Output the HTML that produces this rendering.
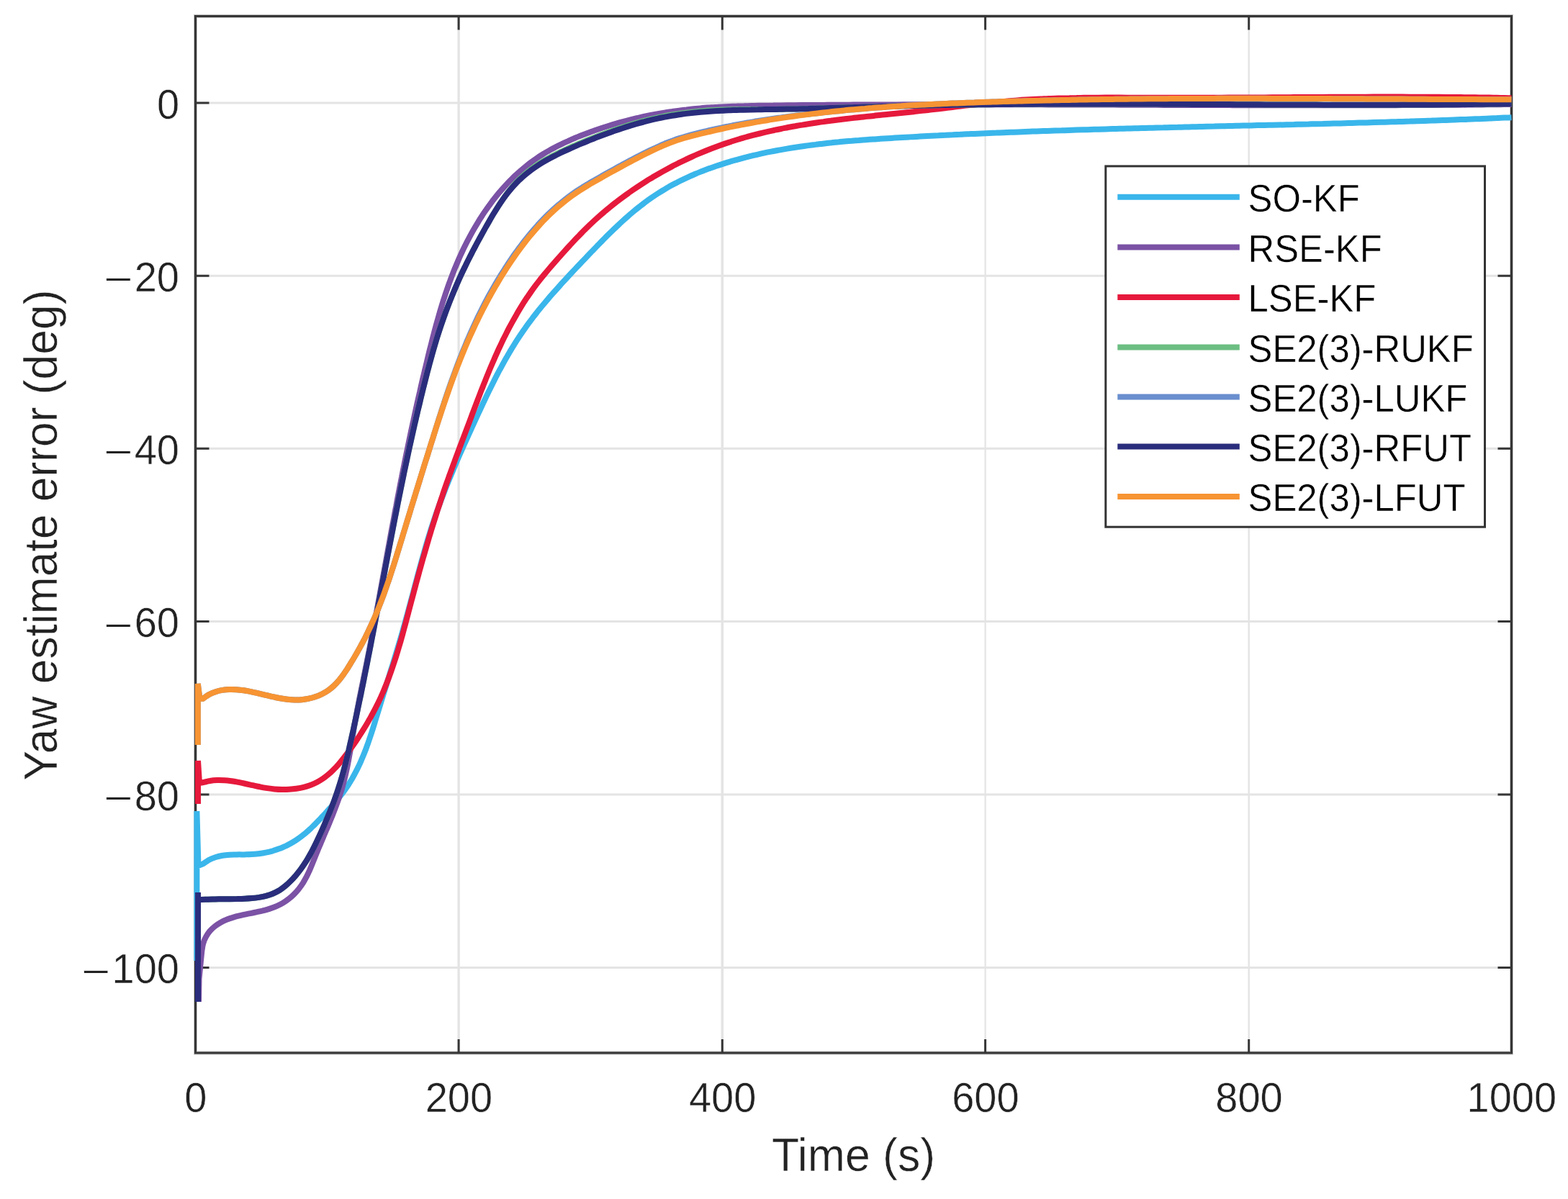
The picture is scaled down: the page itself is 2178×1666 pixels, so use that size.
<!DOCTYPE html>
<html lang="en"><head><meta charset="utf-8"><title>Yaw estimate error</title>
<style>html,body{margin:0;padding:0;background:#fff;}body{width:2178px;height:1666px;overflow:hidden;}svg{display:block;}text{font-family:"Liberation Sans", Arial, Helvetica, sans-serif;stroke:#ffffff;stroke-width:0.45px;}</style>
</head><body>
<svg width="2178" height="1666" viewBox="0 0 2178 1666">
<rect x="0" y="0" width="2178" height="1666" fill="#ffffff"/>
<path d="M637.1,22.5 V1463.0" stroke="#e4e4e4" stroke-width="3.3" fill="none"/>
<path d="M1003.3,22.5 V1463.0" stroke="#e4e4e4" stroke-width="3.6" fill="none"/>
<path d="M1368.6,22.5 V1463.0" stroke="#e4e4e4" stroke-width="2.2" fill="none"/>
<path d="M1734.7,22.5 V1463.0" stroke="#e4e4e4" stroke-width="2.4" fill="none"/>
<path d="M271.5,143.0 H2099.5 M271.5,383.2 H2099.5 M271.5,623.3 H2099.5 M271.5,863.4 H2099.5 M271.5,1103.9 H2099.5 M271.5,1344.6 H2099.5" stroke="#e4e4e4" stroke-width="3" fill="none"/>
<rect x="271.5" y="22.5" width="1828.0" height="1440.5" fill="none" stroke="#363636" stroke-opacity="0.3" stroke-width="5"/>
<rect x="271.5" y="22.5" width="1828.0" height="1440.5" fill="none" stroke="#363636" stroke-width="3"/>
<path d="M637.1,1463.0 v-19 M637.1,22.5 v19 M1003.3,1463.0 v-19 M1003.3,22.5 v19 M1368.6,1463.0 v-19 M1368.6,22.5 v19 M1734.7,1463.0 v-19 M1734.7,22.5 v19 M271.5,143.0 h19 M2099.5,143.0 h-19 M271.5,383.2 h19 M2099.5,383.2 h-19 M271.5,623.3 h19 M2099.5,623.3 h-19 M271.5,863.4 h19 M2099.5,863.4 h-19 M271.5,1103.9 h19 M2099.5,1103.9 h-19 M271.5,1344.6 h19 M2099.5,1344.6 h-19" stroke="#363636" stroke-width="3" fill="none"/>
<g fill="none" stroke-width="8" stroke-linejoin="miter" stroke-linecap="butt">
<path d="M273.4,1335.0 L273.4,1127.0 L275.5,1203.0 L281.7,1200.5 C283.2,1199.5 287.5,1196.3 290.5,1194.7 C293.5,1193.1 296.6,1192.0 299.7,1191.0 C302.8,1190.0 306.0,1189.3 309.2,1188.8 C312.4,1188.3 315.6,1188.0 318.9,1187.7 C322.2,1187.5 325.5,1187.5 328.9,1187.4 C332.2,1187.3 335.6,1187.4 338.9,1187.4 C342.3,1187.3 345.7,1187.3 349.0,1187.1 C352.4,1187.0 355.8,1186.7 359.1,1186.3 C362.4,1185.9 365.8,1185.4 369.1,1184.7 C372.4,1184.0 375.7,1183.2 378.9,1182.3 C382.1,1181.3 385.3,1180.3 388.5,1179.1 C391.6,1177.9 394.7,1176.5 397.8,1175.1 C400.8,1173.6 403.8,1172.0 406.7,1170.3 C409.5,1168.6 412.4,1166.8 415.1,1164.8 C417.8,1162.9 420.5,1160.8 423.1,1158.7 C425.7,1156.5 428.2,1154.3 430.7,1152.0 C433.1,1149.7 435.5,1147.3 437.9,1145.0 C440.3,1142.6 442.6,1140.1 444.9,1137.7 C447.2,1135.3 449.4,1132.8 451.7,1130.4 C453.9,1127.9 456.1,1125.5 458.3,1123.0 C460.5,1120.5 462.8,1118.0 464.9,1115.4 C467.1,1112.9 469.3,1110.3 471.4,1107.6 C473.5,1105.0 475.6,1102.3 477.6,1099.6 C479.6,1096.8 481.5,1094.0 483.4,1091.2 C485.2,1088.3 487.0,1085.4 488.8,1082.5 C490.5,1079.6 492.1,1076.6 493.6,1073.7 C495.2,1070.7 496.7,1067.8 498.1,1064.8 C499.6,1061.8 500.9,1058.7 502.2,1055.7 C503.5,1052.7 504.8,1049.6 506.0,1046.6 C507.2,1043.5 508.4,1040.4 509.5,1037.3 C510.7,1034.2 511.8,1031.1 512.8,1027.9 C513.9,1024.8 514.9,1021.7 516.0,1018.5 C517.0,1015.3 518.0,1012.2 519.0,1009.0 C520.0,1005.8 521.0,1002.6 521.9,999.4 C522.9,996.2 523.9,992.9 524.9,989.7 C525.9,986.5 526.9,983.2 527.9,980.0 C528.9,976.7 529.9,973.5 530.9,970.2 C531.9,967.0 532.9,963.7 533.9,960.4 C535.0,957.2 536.0,953.9 537.0,950.6 C538.0,947.3 539.1,944.0 540.1,940.7 C541.1,937.4 542.1,934.1 543.1,930.8 C544.2,927.5 545.2,924.3 546.2,921.0 C547.2,917.7 548.2,914.4 549.2,911.1 C550.2,907.8 551.2,904.5 552.2,901.2 C553.2,897.9 554.2,894.6 555.1,891.3 C556.1,888.0 557.1,884.7 558.0,881.5 C558.9,878.2 559.9,874.9 560.8,871.6 C561.7,868.4 562.6,865.1 563.5,861.9 C564.4,858.6 565.3,855.3 566.2,852.1 C567.1,848.9 567.9,845.6 568.8,842.4 C569.7,839.1 570.5,835.9 571.4,832.7 C572.3,829.4 573.1,826.2 574.0,823.0 C574.8,819.8 575.7,816.6 576.5,813.4 C577.4,810.2 578.2,807.0 579.1,803.8 C579.9,800.6 580.8,797.4 581.7,794.2 C582.5,791.0 583.4,787.8 584.3,784.6 C585.1,781.4 586.0,778.2 586.9,775.1 C587.8,771.9 588.7,768.7 589.6,765.5 C590.5,762.4 591.4,759.2 592.4,756.1 C593.3,752.9 594.2,749.7 595.2,746.6 C596.2,743.4 597.1,740.3 598.1,737.1 C599.1,734.0 600.1,730.8 601.2,727.7 C602.2,724.6 603.2,721.4 604.3,718.3 C605.4,715.2 606.5,712.0 607.6,708.9 C608.7,705.8 609.8,702.6 611.0,699.5 C612.1,696.4 613.3,693.3 614.5,690.2 C615.7,687.0 616.9,683.9 618.1,680.8 C619.3,677.7 620.5,674.6 621.8,671.5 C623.0,668.4 624.3,665.3 625.6,662.2 C626.9,659.1 628.2,656.0 629.5,652.9 C630.8,649.8 632.1,646.7 633.4,643.6 C634.8,640.5 636.1,637.4 637.4,634.3 C638.8,631.2 640.1,628.1 641.5,625.1 C642.9,622.0 644.3,618.9 645.6,615.8 C647.0,612.7 648.4,609.6 649.8,606.6 C651.2,603.5 652.6,600.4 654.0,597.3 C655.4,594.2 656.8,591.2 658.2,588.1 C659.6,585.0 661.0,581.9 662.4,578.9 C663.8,575.8 665.2,572.7 666.7,569.7 C668.1,566.6 669.5,563.5 670.9,560.5 C672.4,557.4 673.8,554.4 675.3,551.3 C676.7,548.3 678.2,545.3 679.7,542.2 C681.2,539.2 682.7,536.2 684.2,533.2 C685.7,530.2 687.2,527.2 688.7,524.2 C690.3,521.2 691.8,518.2 693.4,515.2 C695.0,512.3 696.6,509.3 698.2,506.4 C699.8,503.5 701.4,500.5 703.1,497.6 C704.7,494.7 706.4,491.8 708.1,488.9 C709.8,486.1 711.5,483.2 713.3,480.4 C715.0,477.5 716.8,474.7 718.6,471.9 C720.4,469.1 722.3,466.3 724.2,463.5 C726.0,460.8 727.9,458.0 729.9,455.3 C731.8,452.6 733.8,449.9 735.8,447.2 C737.7,444.5 739.8,441.9 741.8,439.2 C743.9,436.6 745.9,433.9 748.0,431.3 C750.1,428.7 752.2,426.1 754.4,423.5 C756.5,421.0 758.7,418.4 760.9,415.8 C763.0,413.3 765.2,410.8 767.5,408.2 C769.7,405.7 771.9,403.2 774.2,400.7 C776.4,398.2 778.7,395.7 780.9,393.2 C783.2,390.7 785.5,388.2 787.8,385.7 C790.1,383.3 792.4,380.8 794.7,378.3 C797.0,375.9 799.3,373.4 801.6,370.9 C804.0,368.5 806.3,366.0 808.6,363.6 C810.9,361.1 813.3,358.7 815.6,356.3 C817.9,353.8 820.3,351.4 822.6,348.9 C824.9,346.5 827.3,344.1 829.6,341.6 C832.0,339.2 834.3,336.8 836.7,334.4 C839.1,332.0 841.4,329.6 843.8,327.2 C846.2,324.9 848.6,322.5 851.0,320.2 C853.4,317.8 855.8,315.5 858.3,313.2 C860.7,310.9 863.2,308.6 865.6,306.4 C868.1,304.2 870.6,301.9 873.1,299.7 C875.6,297.5 878.2,295.4 880.7,293.3 C883.3,291.1 885.9,289.0 888.5,287.0 C891.1,284.9 893.8,282.9 896.4,280.9 C899.1,278.9 901.8,277.0 904.5,275.1 C907.2,273.2 910.0,271.3 912.8,269.5 C915.6,267.7 918.4,265.9 921.3,264.2 C924.1,262.5 927.0,260.8 929.9,259.1 C932.8,257.5 935.8,255.9 938.8,254.4 C941.7,252.8 944.7,251.3 947.8,249.8 C950.8,248.4 953.8,247.0 956.9,245.6 C960.0,244.2 963.1,242.8 966.2,241.5 C969.3,240.2 972.4,239.0 975.6,237.7 C978.7,236.5 981.9,235.3 985.1,234.1 C988.3,233.0 991.5,231.8 994.7,230.7 C997.9,229.6 1001.1,228.6 1004.4,227.6 C1007.6,226.5 1010.9,225.5 1014.1,224.6 C1017.4,223.6 1020.7,222.7 1023.9,221.8 C1027.2,220.9 1030.5,220.0 1033.8,219.1 C1037.1,218.3 1040.3,217.5 1043.6,216.7 C1046.9,215.9 1050.2,215.1 1053.5,214.4 C1056.8,213.6 1060.1,212.9 1063.4,212.2 C1066.7,211.5 1070.0,210.9 1073.3,210.2 C1076.6,209.6 1079.9,209.0 1083.2,208.4 C1086.5,207.8 1089.8,207.2 1093.1,206.6 C1096.4,206.1 1099.8,205.5 1103.1,205.0 C1106.4,204.5 1109.7,204.0 1113.0,203.5 C1116.3,203.0 1119.6,202.6 1123.0,202.1 C1126.3,201.7 1129.6,201.3 1132.9,200.9 C1136.3,200.4 1139.6,200.1 1142.9,199.7 C1146.2,199.3 1149.6,198.9 1152.9,198.6 C1156.2,198.2 1159.5,197.9 1162.9,197.6 C1166.2,197.2 1169.5,196.9 1172.9,196.6 C1176.2,196.3 1179.5,196.0 1182.9,195.8 C1186.2,195.5 1189.5,195.2 1192.9,195.0 C1196.2,194.7 1199.6,194.4 1202.9,194.2 C1206.2,194.0 1209.6,193.7 1212.9,193.5 C1216.3,193.3 1219.6,193.0 1223.0,192.8 C1226.3,192.6 1229.6,192.4 1233.0,192.2 C1236.3,192.0 1239.7,191.8 1243.0,191.6 C1246.4,191.4 1249.7,191.2 1253.1,191.0 C1256.4,190.8 1259.8,190.6 1263.1,190.4 C1266.5,190.2 1269.8,190.0 1273.2,189.9 C1276.5,189.7 1279.9,189.5 1283.2,189.3 C1286.6,189.1 1289.9,189.0 1293.3,188.8 C1296.6,188.6 1300.0,188.4 1303.4,188.3 C1306.7,188.1 1310.1,187.9 1313.4,187.8 C1316.8,187.6 1320.1,187.4 1323.5,187.3 C1326.8,187.1 1330.2,186.9 1333.6,186.8 C1336.9,186.6 1340.3,186.5 1343.6,186.3 C1347.0,186.2 1350.4,186.0 1353.7,185.9 C1357.1,185.7 1360.4,185.6 1363.8,185.4 C1367.2,185.3 1370.5,185.1 1373.9,185.0 C1377.2,184.9 1380.6,184.7 1384.0,184.6 C1387.3,184.4 1390.7,184.3 1394.0,184.2 C1397.4,184.0 1400.8,183.9 1404.1,183.8 C1407.5,183.6 1410.9,183.5 1414.2,183.4 C1417.6,183.3 1420.9,183.1 1424.3,183.0 C1427.7,182.9 1431.0,182.8 1434.4,182.6 C1437.8,182.5 1441.1,182.4 1444.5,182.3 C1447.8,182.2 1451.2,182.0 1454.6,181.9 C1457.9,181.8 1461.3,181.7 1464.7,181.6 C1468.0,181.5 1471.4,181.4 1474.8,181.3 C1478.1,181.1 1481.5,181.0 1484.8,180.9 C1488.2,180.8 1491.6,180.7 1494.9,180.6 C1498.3,180.5 1501.7,180.4 1505.0,180.3 C1508.4,180.2 1511.7,180.1 1515.1,180.0 C1518.5,179.9 1521.8,179.8 1525.2,179.7 C1528.5,179.6 1531.9,179.5 1535.3,179.4 C1538.6,179.3 1542.0,179.2 1545.4,179.1 C1548.7,179.0 1552.1,178.9 1555.4,178.8 C1558.8,178.7 1562.2,178.7 1565.5,178.6 C1568.9,178.5 1572.2,178.4 1575.6,178.3 C1579.0,178.2 1582.3,178.1 1585.7,178.0 C1589.0,177.9 1592.4,177.9 1595.8,177.8 C1599.1,177.7 1602.5,177.6 1605.8,177.5 C1609.2,177.4 1612.6,177.3 1615.9,177.3 C1619.3,177.2 1622.6,177.1 1626.0,177.0 C1629.4,176.9 1632.7,176.8 1636.1,176.8 C1639.4,176.7 1642.8,176.6 1646.1,176.5 C1649.5,176.4 1652.9,176.4 1656.2,176.3 C1659.6,176.2 1662.9,176.1 1666.3,176.0 C1669.7,176.0 1673.0,175.9 1676.4,175.8 C1679.7,175.7 1683.1,175.6 1686.4,175.6 C1689.8,175.5 1693.2,175.4 1696.5,175.3 C1699.9,175.2 1703.2,175.2 1706.6,175.1 C1710.0,175.0 1713.3,174.9 1716.7,174.8 C1720.0,174.8 1723.4,174.7 1726.7,174.6 C1730.1,174.5 1733.5,174.5 1736.8,174.4 C1740.2,174.3 1743.5,174.2 1746.9,174.1 C1750.2,174.1 1753.6,174.0 1757.0,173.9 C1760.3,173.8 1763.7,173.8 1767.0,173.7 C1770.4,173.6 1773.8,173.5 1777.1,173.4 C1780.5,173.4 1783.8,173.3 1787.2,173.2 C1790.5,173.1 1793.9,173.0 1797.3,173.0 C1800.6,172.9 1804.0,172.8 1807.3,172.7 C1810.7,172.6 1814.0,172.5 1817.4,172.5 C1820.8,172.4 1824.1,172.3 1827.5,172.2 C1830.8,172.1 1834.2,172.0 1837.5,172.0 C1840.9,171.9 1844.3,171.8 1847.6,171.7 C1851.0,171.6 1854.3,171.5 1857.7,171.4 C1861.0,171.4 1864.4,171.3 1867.8,171.2 C1871.1,171.1 1874.5,171.0 1877.8,170.9 C1881.2,170.8 1884.5,170.7 1887.9,170.6 C1891.3,170.5 1894.6,170.4 1898.0,170.4 C1901.3,170.3 1904.7,170.2 1908.0,170.1 C1911.4,170.0 1914.8,169.9 1918.1,169.8 C1921.5,169.7 1924.8,169.6 1928.2,169.5 C1931.6,169.4 1934.9,169.3 1938.3,169.2 C1941.6,169.1 1945.0,169.0 1948.3,168.9 C1951.7,168.8 1955.1,168.7 1958.4,168.6 C1961.8,168.4 1965.1,168.3 1968.5,168.2 C1971.8,168.1 1975.2,168.0 1978.6,167.9 C1981.9,167.8 1985.3,167.7 1988.6,167.6 C1992.0,167.4 1995.4,167.3 1998.7,167.2 C2002.1,167.1 2005.4,167.0 2008.8,166.9 C2012.1,166.7 2015.5,166.6 2018.9,166.5 C2022.2,166.4 2025.6,166.2 2028.9,166.1 C2032.3,166.0 2035.7,165.9 2039.0,165.7 C2042.4,165.6 2045.7,165.5 2049.1,165.3 C2052.5,165.2 2055.8,165.1 2059.2,164.9 C2062.5,164.8 2065.9,164.7 2069.3,164.5 C2072.6,164.4 2076.0,164.2 2079.3,164.1 C2082.7,163.9 2086.1,163.8 2089.4,163.6 C2092.8,163.5 2097.8,163.3 2099.5,163.2" stroke="#3AB6EB"/>
<path d="M276.0,1392.0 L276.5,1360.0 L280.3,1321.8 C280.6,1320.0 281.3,1314.4 282.2,1311.0 C283.2,1307.7 284.5,1304.5 286.1,1301.6 C287.7,1298.7 289.6,1296.1 291.6,1293.6 C293.7,1291.2 296.1,1289.0 298.6,1287.0 C301.1,1285.0 303.8,1283.3 306.6,1281.7 C309.4,1280.1 312.4,1278.8 315.5,1277.6 C318.5,1276.4 321.7,1275.4 324.9,1274.4 C328.1,1273.4 331.4,1272.7 334.7,1271.9 C338.0,1271.1 341.4,1270.4 344.8,1269.7 C348.2,1269.0 351.6,1268.4 354.9,1267.6 C358.3,1266.9 361.7,1266.2 365.0,1265.4 C368.3,1264.5 371.6,1263.7 374.8,1262.6 C378.0,1261.6 381.2,1260.5 384.2,1259.1 C387.2,1257.8 390.2,1256.3 393.0,1254.6 C395.9,1252.9 398.6,1251.0 401.2,1248.9 C403.8,1246.9 406.2,1244.7 408.6,1242.3 C410.9,1240.0 413.1,1237.5 415.2,1234.9 C417.2,1232.3 419.1,1229.6 420.9,1226.8 C422.6,1224.0 424.2,1221.1 425.8,1218.1 C427.3,1215.2 428.7,1212.1 430.1,1209.1 C431.4,1206.0 432.7,1202.9 434.0,1199.8 C435.3,1196.6 436.5,1193.5 437.8,1190.3 C439.0,1187.2 440.3,1184.0 441.6,1180.9 C442.9,1177.8 444.2,1174.6 445.6,1171.5 C446.9,1168.4 448.2,1165.3 449.5,1162.1 C450.9,1159.0 452.2,1155.9 453.5,1152.8 C454.9,1149.7 456.2,1146.6 457.5,1143.4 C458.8,1140.3 460.1,1137.2 461.3,1134.1 C462.6,1131.0 463.8,1127.9 465.0,1124.7 C466.2,1121.6 467.4,1118.5 468.5,1115.3 C469.7,1112.2 470.8,1109.1 471.8,1105.9 C472.8,1102.7 473.8,1099.6 474.8,1096.4 C475.7,1093.2 476.6,1090.0 477.4,1086.8 C478.2,1083.7 479.0,1080.4 479.8,1077.2 C480.5,1074.0 481.2,1070.8 481.9,1067.6 C482.6,1064.3 483.2,1061.1 483.8,1057.9 C484.4,1054.6 485.0,1051.4 485.6,1048.1 C486.2,1044.8 486.8,1041.6 487.3,1038.3 C487.9,1035.0 488.4,1031.8 488.9,1028.5 C489.5,1025.2 490.0,1021.9 490.6,1018.6 C491.1,1015.3 491.7,1012.0 492.2,1008.7 C492.8,1005.4 493.4,1002.1 494.0,998.8 C494.5,995.5 495.2,992.2 495.8,988.9 C496.4,985.6 497.0,982.3 497.7,979.0 C498.3,975.6 499.0,972.3 499.6,969.0 C500.3,965.7 501.0,962.4 501.6,959.1 C502.3,955.7 503.0,952.4 503.7,949.1 C504.3,945.8 505.0,942.5 505.7,939.2 C506.4,935.9 507.1,932.6 507.7,929.2 C508.4,925.9 509.1,922.6 509.7,919.3 C510.4,916.0 511.0,912.7 511.7,909.4 C512.3,906.1 513.0,902.8 513.6,899.5 C514.3,896.3 514.9,893.0 515.5,889.7 C516.2,886.4 516.8,883.1 517.4,879.8 C518.1,876.5 518.7,873.2 519.3,870.0 C520.0,866.7 520.6,863.4 521.2,860.1 C521.8,856.8 522.4,853.6 523.0,850.3 C523.7,847.0 524.3,843.7 524.9,840.4 C525.5,837.2 526.1,833.9 526.7,830.6 C527.3,827.3 527.9,824.1 528.5,820.8 C529.1,817.5 529.7,814.3 530.3,811.0 C530.9,807.7 531.5,804.4 532.1,801.2 C532.7,797.9 533.3,794.6 533.9,791.4 C534.5,788.1 535.1,784.8 535.7,781.6 C536.3,778.3 536.9,775.0 537.5,771.7 C538.1,768.5 538.7,765.2 539.3,761.9 C539.9,758.7 540.5,755.4 541.1,752.1 C541.7,748.8 542.3,745.6 542.9,742.3 C543.5,739.0 544.1,735.7 544.7,732.5 C545.3,729.2 546.0,725.9 546.6,722.6 C547.2,719.4 547.8,716.1 548.4,712.8 C549.0,709.5 549.6,706.3 550.3,703.0 C550.9,699.7 551.5,696.4 552.1,693.1 C552.8,689.8 553.4,686.5 554.0,683.3 C554.7,680.0 555.3,676.7 555.9,673.4 C556.6,670.1 557.2,666.8 557.9,663.5 C558.5,660.2 559.2,656.9 559.8,653.6 C560.5,650.3 561.2,647.0 561.8,643.7 C562.5,640.4 563.2,637.1 563.8,633.8 C564.5,630.5 565.2,627.2 565.9,623.9 C566.5,620.6 567.2,617.3 567.9,614.0 C568.6,610.6 569.3,607.3 570.0,604.0 C570.7,600.7 571.4,597.4 572.1,594.1 C572.8,590.8 573.5,587.5 574.3,584.2 C575.0,580.9 575.7,577.6 576.4,574.3 C577.1,571.0 577.9,567.7 578.6,564.4 C579.3,561.1 580.1,557.8 580.8,554.5 C581.6,551.2 582.3,547.9 583.1,544.6 C583.8,541.3 584.6,538.0 585.3,534.7 C586.1,531.4 586.8,528.1 587.6,524.8 C588.4,521.6 589.2,518.3 589.9,515.0 C590.7,511.7 591.5,508.5 592.3,505.2 C593.1,501.9 593.9,498.7 594.6,495.4 C595.4,492.1 596.2,488.9 597.0,485.6 C597.9,482.4 598.7,479.1 599.5,475.9 C600.3,472.7 601.1,469.4 602.0,466.2 C602.8,463.0 603.7,459.7 604.5,456.5 C605.4,453.3 606.3,450.1 607.2,446.9 C608.1,443.7 609.0,440.5 609.9,437.3 C610.8,434.1 611.7,430.9 612.7,427.7 C613.7,424.5 614.6,421.4 615.6,418.2 C616.6,415.0 617.7,411.9 618.7,408.7 C619.8,405.6 620.8,402.4 621.9,399.3 C623.0,396.1 624.1,393.0 625.3,389.9 C626.4,386.8 627.6,383.7 628.8,380.6 C630.0,377.5 631.2,374.4 632.5,371.3 C633.8,368.2 635.1,365.1 636.4,362.1 C637.7,359.0 639.1,355.9 640.5,352.9 C641.9,349.9 643.3,346.8 644.8,343.8 C646.3,340.8 647.8,337.8 649.3,334.8 C650.9,331.8 652.5,328.8 654.1,325.8 C655.7,322.9 657.4,319.9 659.1,317.0 C660.8,314.1 662.5,311.2 664.3,308.3 C666.0,305.4 667.8,302.5 669.7,299.7 C671.5,296.9 673.4,294.1 675.4,291.3 C677.3,288.5 679.3,285.8 681.3,283.1 C683.3,280.4 685.3,277.7 687.4,275.1 C689.5,272.4 691.6,269.8 693.8,267.2 C696.0,264.7 698.2,262.1 700.4,259.7 C702.7,257.2 705.0,254.7 707.3,252.3 C709.6,249.9 712.0,247.6 714.4,245.2 C716.8,242.9 719.3,240.7 721.8,238.5 C724.3,236.2 726.8,234.1 729.4,232.0 C732.0,229.9 734.6,227.8 737.3,225.8 C739.9,223.8 742.6,221.9 745.4,220.0 C748.1,218.1 750.9,216.3 753.8,214.5 C756.6,212.7 759.5,211.0 762.4,209.4 C765.3,207.7 768.3,206.1 771.3,204.6 C774.2,203.0 777.3,201.5 780.3,200.1 C783.3,198.6 786.4,197.2 789.5,195.9 C792.5,194.5 795.6,193.1 798.7,191.8 C801.8,190.5 804.9,189.3 808.0,188.0 C811.2,186.8 814.3,185.6 817.4,184.4 C820.5,183.2 823.7,182.1 826.8,181.0 C830.0,179.9 833.2,178.8 836.3,177.7 C839.5,176.7 842.7,175.7 845.9,174.7 C849.0,173.7 852.2,172.7 855.4,171.8 C858.6,170.9 861.9,170.0 865.1,169.1 C868.3,168.2 871.5,167.4 874.7,166.6 C878.0,165.8 881.2,165.0 884.4,164.2 C887.7,163.5 890.9,162.7 894.2,162.0 C897.5,161.3 900.7,160.7 904.0,160.0 C907.2,159.4 910.5,158.8 913.8,158.2 C917.1,157.6 920.4,157.0 923.7,156.5 C926.9,155.9 930.2,155.4 933.5,155.0 C936.8,154.5 940.1,154.0 943.5,153.6 C946.8,153.2 950.1,152.7 953.4,152.4 C956.7,152.0 960.0,151.6 963.4,151.3 C966.7,151.0 970.0,150.7 973.3,150.4 C976.7,150.1 980.0,149.8 983.4,149.6 C986.7,149.4 990.0,149.1 993.4,148.9 C996.7,148.7 1000.1,148.6 1003.4,148.4 C1006.8,148.2 1010.1,148.1 1013.5,147.9 C1016.8,147.8 1020.2,147.7 1023.5,147.6 C1026.9,147.4 1030.3,147.3 1033.6,147.3 C1037.0,147.2 1040.3,147.1 1043.7,147.0 C1047.1,147.0 1050.4,146.9 1053.8,146.8 C1057.1,146.8 1060.5,146.7 1063.9,146.7 C1067.2,146.6 1070.6,146.6 1074.0,146.6 C1077.3,146.5 1080.7,146.5 1084.1,146.4 C1087.4,146.4 1090.8,146.4 1094.2,146.3 C1097.5,146.3 1100.9,146.3 1104.2,146.2 C1107.6,146.2 1111.0,146.2 1114.3,146.1 C1117.7,146.1 1121.1,146.1 1124.4,146.1 C1127.8,146.0 1131.1,146.0 1134.5,146.0 C1137.9,145.9 1141.2,145.9 1144.6,145.9 C1147.9,145.9 1151.3,145.8 1154.7,145.8 C1158.0,145.8 1161.4,145.8 1164.7,145.7 C1168.1,145.7 1171.5,145.7 1174.8,145.7 C1178.2,145.7 1181.5,145.6 1184.9,145.6 C1188.2,145.6 1191.6,145.6 1195.0,145.6 C1198.3,145.5 1201.7,145.5 1205.0,145.5 C1208.4,145.5 1211.7,145.5 1215.1,145.5 C1218.5,145.5 1221.8,145.4 1225.2,145.4 C1228.5,145.4 1231.9,145.4 1235.2,145.4 C1238.6,145.4 1241.9,145.4 1245.3,145.4 C1248.7,145.3 1252.0,145.3 1255.4,145.3 C1258.7,145.3 1262.1,145.3 1265.4,145.3 C1268.8,145.3 1272.1,145.3 1275.5,145.3 C1278.8,145.3 1282.2,145.3 1285.5,145.3 C1288.9,145.2 1292.3,145.2 1295.6,145.2 C1299.0,145.2 1302.3,145.2 1305.7,145.2 C1309.0,145.2 1312.4,145.2 1315.7,145.2 C1319.1,145.2 1322.4,145.2 1325.8,145.2 C1329.1,145.2 1332.5,145.2 1335.8,145.2 C1339.2,145.2 1342.5,145.2 1345.9,145.2 C1349.2,145.2 1352.6,145.2 1355.9,145.2 C1359.3,145.2 1362.6,145.2 1366.0,145.2 C1369.3,145.2 1372.7,145.2 1376.0,145.2 C1379.4,145.2 1382.7,145.2 1386.1,145.2 C1389.4,145.2 1392.8,145.2 1396.1,145.2 C1399.5,145.2 1402.8,145.2 1406.2,145.3 C1409.5,145.3 1412.9,145.3 1416.2,145.3 C1419.6,145.3 1422.9,145.3 1426.3,145.3 C1429.6,145.3 1433.0,145.3 1436.3,145.3 C1439.7,145.3 1443.0,145.3 1446.4,145.3 C1449.7,145.3 1453.0,145.3 1456.4,145.4 C1459.7,145.4 1463.1,145.4 1466.4,145.4 C1469.8,145.4 1473.1,145.4 1476.5,145.4 C1479.8,145.4 1483.2,145.4 1486.5,145.4 C1489.9,145.4 1493.2,145.5 1496.6,145.5 C1499.9,145.5 1503.3,145.5 1506.6,145.5 C1510.0,145.5 1513.3,145.5 1516.6,145.5 C1520.0,145.5 1523.3,145.5 1526.7,145.6 C1530.0,145.6 1533.4,145.6 1536.7,145.6 C1540.1,145.6 1543.4,145.6 1546.8,145.6 C1550.1,145.6 1553.5,145.6 1556.8,145.7 C1560.1,145.7 1563.5,145.7 1566.8,145.7 C1570.2,145.7 1573.5,145.7 1576.9,145.7 C1580.2,145.7 1583.6,145.7 1586.9,145.8 C1590.3,145.8 1593.6,145.8 1597.0,145.8 C1600.3,145.8 1603.6,145.8 1607.0,145.8 C1610.3,145.8 1613.7,145.8 1617.0,145.9 C1620.4,145.9 1623.7,145.9 1627.1,145.9 C1630.4,145.9 1633.8,145.9 1637.1,145.9 C1640.5,145.9 1643.8,145.9 1647.1,146.0 C1650.5,146.0 1653.8,146.0 1657.2,146.0 C1660.5,146.0 1663.9,146.0 1667.2,146.0 C1670.6,146.0 1673.9,146.0 1677.3,146.1 C1680.6,146.1 1683.9,146.1 1687.3,146.1 C1690.6,146.1 1694.0,146.1 1697.3,146.1 C1700.7,146.1 1704.0,146.1 1707.4,146.1 C1710.7,146.1 1714.1,146.2 1717.4,146.2 C1720.8,146.2 1724.1,146.2 1727.5,146.2 C1730.8,146.2 1734.1,146.2 1737.5,146.2 C1740.8,146.2 1744.2,146.2 1747.5,146.2 C1750.9,146.2 1754.2,146.2 1757.6,146.2 C1760.9,146.3 1764.3,146.3 1767.6,146.3 C1771.0,146.3 1774.3,146.3 1777.7,146.3 C1781.0,146.3 1784.4,146.3 1787.7,146.3 C1791.0,146.3 1794.4,146.3 1797.7,146.3 C1801.1,146.3 1804.4,146.3 1807.8,146.3 C1811.1,146.3 1814.5,146.3 1817.8,146.3 C1821.2,146.3 1824.5,146.3 1827.9,146.3 C1831.2,146.3 1834.6,146.3 1837.9,146.3 C1841.3,146.3 1844.6,146.3 1848.0,146.3 C1851.3,146.3 1854.7,146.3 1858.0,146.3 C1861.4,146.3 1864.7,146.3 1868.1,146.3 C1871.4,146.3 1874.8,146.3 1878.1,146.3 C1881.5,146.3 1884.8,146.3 1888.2,146.3 C1891.5,146.3 1894.9,146.3 1898.2,146.3 C1901.6,146.3 1904.9,146.2 1908.3,146.2 C1911.6,146.2 1915.0,146.2 1918.3,146.2 C1921.7,146.2 1925.0,146.2 1928.4,146.2 C1931.7,146.2 1935.1,146.2 1938.4,146.2 C1941.8,146.1 1945.1,146.1 1948.5,146.1 C1951.8,146.1 1955.2,146.1 1958.5,146.1 C1961.9,146.1 1965.2,146.0 1968.6,146.0 C1972.0,146.0 1975.3,146.0 1978.7,146.0 C1982.0,146.0 1985.4,145.9 1988.7,145.9 C1992.1,145.9 1995.4,145.9 1998.8,145.9 C2002.1,145.8 2005.5,145.8 2008.9,145.8 C2012.2,145.8 2015.6,145.8 2018.9,145.7 C2022.3,145.7 2025.6,145.7 2029.0,145.7 C2032.3,145.6 2035.7,145.6 2039.1,145.6 C2042.4,145.6 2045.8,145.5 2049.1,145.5 C2052.5,145.5 2055.8,145.4 2059.2,145.4 C2062.6,145.4 2065.9,145.3 2069.3,145.3 C2072.6,145.3 2076.0,145.2 2079.3,145.2 C2082.7,145.2 2086.1,145.1 2089.4,145.1 C2092.8,145.1 2097.8,145.0 2099.5,145.0" stroke="#7B52A5"/>
<path d="M275.0,1117.0 L275.0,1057.0 L277.0,1088.0 L281.7,1087.3 C283.4,1086.9 288.4,1085.5 291.7,1085.0 C295.0,1084.4 298.3,1084.1 301.6,1084.0 C304.9,1083.9 308.2,1084.0 311.5,1084.2 C314.8,1084.4 318.1,1084.8 321.4,1085.2 C324.7,1085.7 327.9,1086.3 331.2,1086.9 C334.5,1087.5 337.8,1088.2 341.1,1089.0 C344.4,1089.7 347.7,1090.5 351.0,1091.2 C354.3,1091.9 357.7,1092.7 361.0,1093.3 C364.3,1094.0 367.7,1094.6 371.1,1095.1 C374.5,1095.6 377.9,1096.1 381.3,1096.4 C384.7,1096.7 388.2,1096.9 391.6,1096.9 C395.0,1097.0 398.4,1096.9 401.8,1096.7 C405.2,1096.5 408.6,1096.2 411.9,1095.7 C415.2,1095.2 418.5,1094.6 421.7,1093.8 C424.9,1093.0 428.0,1092.0 431.1,1090.9 C434.2,1089.8 437.2,1088.5 440.1,1087.0 C442.9,1085.5 445.7,1083.8 448.4,1082.0 C451.1,1080.2 453.7,1078.1 456.2,1076.0 C458.7,1073.9 461.2,1071.6 463.5,1069.2 C465.9,1066.9 468.1,1064.4 470.4,1061.8 C472.6,1059.3 474.7,1056.7 476.8,1054.0 C478.9,1051.4 481.0,1048.7 483.0,1046.0 C485.0,1043.3 487.0,1040.6 488.9,1037.8 C490.9,1035.1 492.8,1032.3 494.7,1029.5 C496.5,1026.7 498.4,1023.9 500.2,1021.0 C502.0,1018.2 503.8,1015.3 505.6,1012.4 C507.4,1009.5 509.1,1006.6 510.8,1003.7 C512.5,1000.7 514.2,997.8 515.8,994.8 C517.5,991.8 519.1,988.8 520.6,985.8 C522.2,982.8 523.7,979.8 525.2,976.8 C526.7,973.7 528.1,970.7 529.5,967.6 C530.8,964.5 532.2,961.5 533.5,958.4 C534.8,955.3 536.0,952.2 537.3,949.0 C538.5,945.9 539.7,942.8 540.8,939.6 C542.0,936.5 543.1,933.3 544.2,930.2 C545.3,927.0 546.4,923.8 547.4,920.6 C548.5,917.5 549.5,914.3 550.5,911.1 C551.5,907.9 552.5,904.7 553.4,901.5 C554.4,898.2 555.3,895.0 556.3,891.8 C557.2,888.6 558.1,885.3 559.0,882.1 C559.9,878.9 560.8,875.6 561.6,872.4 C562.5,869.2 563.4,865.9 564.2,862.7 C565.1,859.4 565.9,856.2 566.8,853.0 C567.6,849.7 568.5,846.5 569.3,843.2 C570.2,840.0 571.0,836.8 571.9,833.5 C572.8,830.3 573.6,827.0 574.5,823.8 C575.3,820.6 576.2,817.3 577.1,814.1 C577.9,810.9 578.8,807.7 579.7,804.4 C580.6,801.2 581.5,798.0 582.3,794.8 C583.2,791.5 584.1,788.3 585.0,785.1 C585.9,781.9 586.8,778.7 587.7,775.4 C588.7,772.2 589.6,769.0 590.5,765.8 C591.4,762.6 592.4,759.4 593.3,756.2 C594.2,753.0 595.2,749.7 596.1,746.5 C597.1,743.3 598.1,740.1 599.0,736.9 C600.0,733.7 601.0,730.5 602.0,727.3 C603.0,724.1 604.0,720.9 605.0,717.7 C606.0,714.5 607.0,711.3 608.0,708.1 C609.1,705.0 610.1,701.8 611.2,698.6 C612.2,695.4 613.3,692.2 614.4,689.0 C615.4,685.8 616.5,682.6 617.6,679.4 C618.7,676.3 619.8,673.1 620.9,669.9 C622.1,666.7 623.2,663.5 624.3,660.4 C625.5,657.2 626.6,654.0 627.8,650.8 C628.9,647.7 630.1,644.5 631.3,641.3 C632.4,638.1 633.6,635.0 634.8,631.8 C636.0,628.6 637.2,625.4 638.3,622.3 C639.5,619.1 640.7,615.9 641.9,612.8 C643.1,609.6 644.3,606.5 645.5,603.3 C646.7,600.1 647.9,597.0 649.1,593.8 C650.3,590.6 651.5,587.5 652.7,584.3 C653.9,581.2 655.1,578.0 656.2,574.9 C657.4,571.7 658.6,568.6 659.8,565.4 C661.0,562.3 662.2,559.1 663.4,556.0 C664.6,552.8 665.8,549.7 667.0,546.6 C668.2,543.4 669.5,540.3 670.7,537.2 C671.9,534.1 673.2,531.0 674.4,527.8 C675.6,524.7 676.9,521.6 678.2,518.5 C679.4,515.5 680.7,512.4 682.0,509.3 C683.3,506.2 684.6,503.2 686.0,500.1 C687.3,497.0 688.6,494.0 690.0,491.0 C691.4,487.9 692.7,484.9 694.2,481.9 C695.6,478.9 697.0,475.9 698.4,472.9 C699.9,469.9 701.4,466.9 702.9,464.0 C704.4,461.0 705.9,458.1 707.4,455.2 C709.0,452.2 710.6,449.3 712.2,446.4 C713.8,443.5 715.4,440.6 717.1,437.8 C718.7,434.9 720.4,432.0 722.1,429.2 C723.8,426.4 725.6,423.5 727.3,420.7 C729.1,417.9 730.9,415.1 732.8,412.4 C734.7,409.6 736.6,406.8 738.5,404.1 C740.5,401.3 742.5,398.6 744.5,395.9 C746.6,393.2 748.7,390.5 750.8,387.8 C752.9,385.2 755.1,382.5 757.3,379.9 C759.5,377.2 761.7,374.6 763.9,372.0 C766.1,369.4 768.4,366.8 770.6,364.3 C772.9,361.7 775.1,359.1 777.4,356.6 C779.6,354.1 781.8,351.6 784.1,349.1 C786.3,346.6 788.6,344.1 790.8,341.7 C793.1,339.2 795.4,336.8 797.6,334.4 C799.9,331.9 802.2,329.6 804.5,327.2 C806.8,324.8 809.1,322.5 811.4,320.1 C813.8,317.8 816.1,315.5 818.5,313.2 C820.9,310.9 823.3,308.6 825.7,306.4 C828.1,304.2 830.6,301.9 833.1,299.7 C835.6,297.5 838.1,295.4 840.7,293.2 C843.2,291.1 845.8,288.9 848.4,286.8 C851.0,284.7 853.6,282.7 856.3,280.6 C859.0,278.5 861.7,276.5 864.4,274.5 C867.1,272.5 869.8,270.5 872.6,268.6 C875.3,266.6 878.1,264.7 880.9,262.8 C883.7,260.9 886.5,259.0 889.4,257.1 C892.2,255.3 895.1,253.4 897.9,251.6 C900.8,249.8 903.7,248.1 906.6,246.3 C909.5,244.6 912.5,242.9 915.4,241.2 C918.3,239.5 921.3,237.8 924.3,236.2 C927.3,234.6 930.3,233.0 933.3,231.4 C936.3,229.8 939.3,228.3 942.3,226.7 C945.3,225.2 948.4,223.7 951.4,222.3 C954.5,220.8 957.6,219.4 960.7,218.0 C963.7,216.6 966.8,215.2 969.9,213.9 C973.0,212.6 976.1,211.3 979.3,210.0 C982.4,208.7 985.5,207.5 988.7,206.3 C991.8,205.1 994.9,203.9 998.1,202.7 C1001.2,201.6 1004.4,200.5 1007.6,199.4 C1010.7,198.3 1013.9,197.3 1017.1,196.3 C1020.3,195.3 1023.5,194.3 1026.7,193.3 C1029.9,192.4 1033.1,191.4 1036.3,190.5 C1039.5,189.6 1042.7,188.8 1045.9,187.9 C1049.1,187.1 1052.3,186.3 1055.6,185.5 C1058.8,184.7 1062.0,183.9 1065.3,183.2 C1068.5,182.4 1071.8,181.7 1075.0,181.0 C1078.3,180.3 1081.5,179.6 1084.8,179.0 C1088.0,178.3 1091.3,177.7 1094.6,177.0 C1097.8,176.4 1101.1,175.8 1104.4,175.3 C1107.7,174.7 1110.9,174.1 1114.2,173.6 C1117.5,173.0 1120.8,172.5 1124.1,172.0 C1127.4,171.5 1130.7,171.0 1134.0,170.5 C1137.3,170.0 1140.6,169.5 1143.9,169.1 C1147.2,168.6 1150.5,168.2 1153.8,167.8 C1157.2,167.3 1160.5,166.9 1163.8,166.5 C1167.1,166.1 1170.4,165.7 1173.8,165.3 C1177.1,164.9 1180.4,164.5 1183.8,164.1 C1187.1,163.7 1190.4,163.4 1193.8,163.0 C1197.1,162.6 1200.4,162.3 1203.8,161.9 C1207.1,161.6 1210.5,161.2 1213.8,160.9 C1217.1,160.5 1220.5,160.2 1223.8,159.8 C1227.2,159.5 1230.5,159.1 1233.9,158.8 C1237.2,158.5 1240.6,158.1 1243.9,157.8 C1247.3,157.4 1250.6,157.1 1254.0,156.7 C1257.3,156.4 1260.7,156.0 1264.0,155.7 C1267.4,155.3 1270.7,155.0 1274.1,154.6 C1277.5,154.3 1280.8,153.9 1284.2,153.5 C1287.5,153.1 1290.9,152.8 1294.2,152.4 C1297.6,152.0 1300.9,151.6 1304.3,151.2 C1307.6,150.8 1311.0,150.4 1314.4,150.0 C1317.7,149.6 1321.1,149.2 1324.4,148.7 C1327.8,148.3 1331.1,147.9 1334.5,147.5 C1337.8,147.1 1341.2,146.7 1344.5,146.3 C1347.9,145.9 1351.2,145.5 1354.6,145.1 C1357.9,144.7 1361.3,144.4 1364.6,144.0 C1368.0,143.6 1371.4,143.2 1374.7,142.9 C1378.1,142.5 1381.4,142.2 1384.8,141.9 C1388.1,141.5 1391.5,141.2 1394.8,140.9 C1398.2,140.6 1401.5,140.3 1404.9,140.0 C1408.2,139.8 1411.6,139.5 1414.9,139.3 C1418.3,139.0 1421.6,138.8 1425.0,138.6 C1428.3,138.4 1431.7,138.2 1435.0,138.0 C1438.4,137.8 1441.7,137.7 1445.1,137.5 C1448.4,137.4 1451.8,137.2 1455.1,137.1 C1458.5,136.9 1461.8,136.8 1465.2,136.7 C1468.5,136.6 1471.9,136.5 1475.2,136.4 C1478.6,136.3 1481.9,136.2 1485.3,136.2 C1488.6,136.1 1492.0,136.0 1495.3,136.0 C1498.7,135.9 1502.0,135.9 1505.4,135.8 C1508.7,135.8 1512.1,135.8 1515.4,135.7 C1518.8,135.7 1522.1,135.7 1525.5,135.7 C1528.8,135.6 1532.2,135.6 1535.5,135.6 C1538.9,135.6 1542.2,135.6 1545.6,135.6 C1548.9,135.6 1552.3,135.6 1555.6,135.6 C1559.0,135.6 1562.3,135.6 1565.7,135.7 C1569.0,135.7 1572.4,135.7 1575.7,135.7 C1579.1,135.7 1582.4,135.7 1585.8,135.7 C1589.1,135.7 1592.5,135.7 1595.8,135.8 C1599.2,135.8 1602.5,135.8 1605.9,135.8 C1609.2,135.8 1612.6,135.8 1615.9,135.8 C1619.3,135.8 1622.6,135.8 1626.0,135.8 C1629.3,135.8 1632.7,135.8 1636.0,135.8 C1639.4,135.8 1642.7,135.8 1646.1,135.8 C1649.4,135.8 1652.8,135.8 1656.1,135.8 C1659.5,135.8 1662.9,135.8 1666.2,135.8 C1669.6,135.8 1672.9,135.7 1676.3,135.7 C1679.6,135.7 1683.0,135.7 1686.3,135.7 C1689.7,135.7 1693.0,135.7 1696.4,135.7 C1699.7,135.6 1703.1,135.6 1706.4,135.6 C1709.8,135.6 1713.1,135.6 1716.5,135.6 C1719.8,135.6 1723.2,135.5 1726.5,135.5 C1729.9,135.5 1733.2,135.5 1736.6,135.5 C1739.9,135.4 1743.3,135.4 1746.6,135.4 C1750.0,135.4 1753.4,135.4 1756.7,135.4 C1760.1,135.3 1763.4,135.3 1766.8,135.3 C1770.1,135.3 1773.5,135.3 1776.8,135.2 C1780.2,135.2 1783.5,135.2 1786.9,135.2 C1790.2,135.2 1793.6,135.1 1796.9,135.1 C1800.3,135.1 1803.7,135.1 1807.0,135.1 C1810.4,135.0 1813.7,135.0 1817.1,135.0 C1820.4,135.0 1823.8,135.0 1827.1,134.9 C1830.5,134.9 1833.9,134.9 1837.2,134.9 C1840.6,134.9 1843.9,134.9 1847.3,134.8 C1850.6,134.8 1854.0,134.8 1857.3,134.8 C1860.7,134.8 1864.1,134.8 1867.4,134.8 C1870.8,134.7 1874.1,134.7 1877.5,134.7 C1880.8,134.7 1884.2,134.7 1887.6,134.7 C1890.9,134.7 1894.3,134.7 1897.6,134.7 C1901.0,134.6 1904.4,134.6 1907.7,134.6 C1911.1,134.6 1914.4,134.6 1917.8,134.6 C1921.2,134.6 1924.5,134.6 1927.9,134.6 C1931.2,134.6 1934.6,134.6 1938.0,134.6 C1941.3,134.6 1944.7,134.6 1948.0,134.6 C1951.4,134.6 1954.8,134.6 1958.1,134.7 C1961.5,134.7 1964.8,134.7 1968.2,134.7 C1971.6,134.7 1974.9,134.7 1978.3,134.7 C1981.7,134.7 1985.0,134.8 1988.4,134.8 C1991.7,134.8 1995.1,134.8 1998.5,134.8 C2001.8,134.9 2005.2,134.9 2008.6,134.9 C2011.9,134.9 2015.3,135.0 2018.7,135.0 C2022.0,135.0 2025.4,135.1 2028.8,135.1 C2032.1,135.1 2035.5,135.2 2038.9,135.2 C2042.2,135.3 2045.6,135.3 2049.0,135.3 C2052.3,135.4 2055.7,135.4 2059.1,135.5 C2062.4,135.5 2065.8,135.6 2069.2,135.6 C2072.5,135.7 2075.9,135.7 2079.3,135.8 C2082.6,135.9 2086.0,135.9 2089.4,136.0 C2092.8,136.1 2097.8,136.2 2099.5,136.2" stroke="#E6193C"/>
<path d="M275.0,1392.0 L275.0,1240.0 L275.0,1250.0 L279.0,1250.0 C280.6,1249.9 285.5,1249.8 288.8,1249.7 C292.0,1249.6 295.4,1249.5 298.7,1249.4 C302.1,1249.4 305.5,1249.3 308.9,1249.3 C312.3,1249.2 315.7,1249.2 319.1,1249.2 C322.6,1249.1 326.0,1249.1 329.4,1249.1 C332.9,1249.0 336.3,1248.9 339.7,1248.7 C343.1,1248.6 346.5,1248.4 349.8,1248.1 C353.2,1247.8 356.5,1247.4 359.8,1246.9 C363.1,1246.3 366.3,1245.7 369.5,1244.9 C372.7,1244.0 375.8,1243.1 378.9,1241.8 C381.9,1240.5 384.9,1239.0 387.8,1237.3 C390.7,1235.5 393.5,1233.4 396.2,1231.2 C398.8,1229.0 401.4,1226.5 403.9,1224.0 C406.4,1221.6 408.7,1218.9 411.0,1216.3 C413.2,1213.7 415.3,1211.0 417.3,1208.4 C419.3,1205.7 421.2,1203.0 423.0,1200.2 C424.8,1197.5 426.5,1194.7 428.1,1191.9 C429.8,1189.1 431.3,1186.3 432.9,1183.4 C434.4,1180.6 435.9,1177.7 437.3,1174.8 C438.7,1171.9 440.1,1168.9 441.5,1166.0 C442.9,1163.0 444.2,1160.1 445.6,1157.1 C447.0,1154.1 448.3,1151.0 449.7,1148.0 C451.0,1145.0 452.3,1141.9 453.6,1138.8 C454.9,1135.8 456.2,1132.7 457.5,1129.6 C458.8,1126.4 460.0,1123.3 461.2,1120.2 C462.5,1117.0 463.7,1113.9 464.8,1110.7 C466.0,1107.5 467.1,1104.3 468.2,1101.1 C469.3,1097.9 470.3,1094.7 471.3,1091.5 C472.3,1088.3 473.3,1085.0 474.3,1081.8 C475.2,1078.6 476.1,1075.3 477.0,1072.1 C477.9,1068.8 478.7,1065.5 479.6,1062.3 C480.4,1059.0 481.2,1055.7 482.0,1052.4 C482.8,1049.2 483.6,1045.9 484.4,1042.6 C485.1,1039.3 485.9,1036.0 486.6,1032.7 C487.4,1029.4 488.1,1026.1 488.8,1022.8 C489.6,1019.5 490.3,1016.2 491.0,1013.0 C491.7,1009.7 492.4,1006.4 493.1,1003.1 C493.9,999.8 494.6,996.5 495.3,993.2 C496.0,989.9 496.7,986.6 497.3,983.3 C498.0,980.0 498.7,976.7 499.4,973.4 C500.1,970.2 500.8,966.9 501.5,963.6 C502.1,960.3 502.8,957.0 503.5,953.7 C504.1,950.4 504.8,947.1 505.5,943.8 C506.1,940.5 506.8,937.2 507.4,934.0 C508.1,930.7 508.8,927.4 509.4,924.1 C510.1,920.8 510.7,917.5 511.3,914.2 C512.0,910.9 512.6,907.6 513.3,904.3 C513.9,901.1 514.6,897.8 515.2,894.5 C515.8,891.2 516.5,887.9 517.1,884.6 C517.7,881.3 518.4,878.0 519.0,874.7 C519.6,871.5 520.3,868.2 520.9,864.9 C521.5,861.6 522.1,858.3 522.8,855.0 C523.4,851.7 524.0,848.4 524.6,845.2 C525.3,841.9 525.9,838.6 526.5,835.3 C527.1,832.0 527.7,828.7 528.4,825.4 C529.0,822.1 529.6,818.9 530.2,815.6 C530.9,812.3 531.5,809.0 532.1,805.7 C532.7,802.4 533.3,799.2 534.0,795.9 C534.6,792.6 535.2,789.3 535.8,786.0 C536.5,782.7 537.1,779.4 537.7,776.2 C538.3,772.9 539.0,769.6 539.6,766.3 C540.2,763.0 540.8,759.7 541.5,756.5 C542.1,753.2 542.7,749.9 543.4,746.6 C544.0,743.3 544.6,740.0 545.3,736.8 C545.9,733.5 546.5,730.2 547.2,726.9 C547.8,723.6 548.5,720.4 549.1,717.1 C549.8,713.8 550.4,710.5 551.1,707.2 C551.7,703.9 552.4,700.7 553.0,697.4 C553.7,694.1 554.3,690.8 555.0,687.5 C555.7,684.3 556.3,681.0 557.0,677.7 C557.7,674.4 558.3,671.2 559.0,667.9 C559.7,664.6 560.4,661.3 561.0,658.0 C561.7,654.8 562.4,651.5 563.1,648.2 C563.8,644.9 564.5,641.7 565.2,638.4 C565.9,635.1 566.6,631.8 567.3,628.5 C568.0,625.3 568.7,622.0 569.4,618.7 C570.2,615.4 570.9,612.2 571.6,608.9 C572.3,605.6 573.1,602.3 573.8,599.1 C574.6,595.8 575.3,592.5 576.0,589.2 C576.8,586.0 577.6,582.7 578.3,579.4 C579.1,576.2 579.8,572.9 580.6,569.6 C581.4,566.3 582.2,563.1 583.0,559.8 C583.7,556.5 584.5,553.2 585.3,550.0 C586.1,546.7 586.9,543.4 587.7,540.2 C588.6,536.9 589.4,533.6 590.2,530.3 C591.0,527.1 591.9,523.8 592.7,520.5 C593.5,517.3 594.4,514.0 595.3,510.7 C596.1,507.5 597.0,504.2 597.9,501.0 C598.8,497.7 599.7,494.4 600.6,491.2 C601.5,487.9 602.4,484.7 603.4,481.5 C604.3,478.2 605.3,475.0 606.3,471.7 C607.3,468.5 608.3,465.3 609.3,462.1 C610.4,458.9 611.4,455.7 612.5,452.5 C613.6,449.3 614.7,446.1 615.8,442.9 C616.9,439.7 618.1,436.5 619.2,433.4 C620.4,430.2 621.6,427.1 622.8,423.9 C624.0,420.8 625.2,417.6 626.5,414.5 C627.7,411.4 629.0,408.3 630.3,405.2 C631.6,402.1 632.9,399.1 634.2,396.0 C635.5,392.9 636.9,389.9 638.2,386.9 C639.6,383.8 641.0,380.8 642.4,377.8 C643.8,374.8 645.3,371.8 646.7,368.9 C648.2,365.9 649.6,362.9 651.1,360.0 C652.6,357.0 654.1,354.0 655.6,351.1 C657.2,348.1 658.7,345.2 660.3,342.3 C661.8,339.3 663.4,336.4 665.0,333.4 C666.6,330.5 668.2,327.5 669.8,324.6 C671.5,321.6 673.1,318.6 674.8,315.6 C676.5,312.7 678.2,309.7 679.9,306.7 C681.6,303.7 683.3,300.8 685.1,297.8 C686.9,294.9 688.7,292.0 690.5,289.1 C692.3,286.2 694.2,283.3 696.1,280.4 C697.9,277.6 699.9,274.8 701.9,272.0 C703.8,269.3 705.9,266.6 708.0,264.0 C710.1,261.4 712.2,258.8 714.4,256.3 C716.6,253.8 718.9,251.4 721.2,249.1 C723.6,246.8 726.0,244.6 728.5,242.4 C730.9,240.3 733.5,238.2 736.1,236.2 C738.6,234.2 741.3,232.3 744.0,230.4 C746.7,228.6 749.5,226.8 752.3,225.1 C755.1,223.4 758.0,221.8 760.9,220.2 C763.8,218.6 766.7,217.0 769.7,215.5 C772.6,214.0 775.6,212.5 778.6,211.1 C781.6,209.6 784.7,208.2 787.7,206.8 C790.8,205.4 793.9,204.1 797.0,202.7 C800.1,201.4 803.2,200.0 806.3,198.7 C809.5,197.4 812.6,196.1 815.8,194.8 C818.9,193.5 822.1,192.2 825.3,191.0 C828.5,189.7 831.6,188.5 834.8,187.3 C838.1,186.1 841.3,184.9 844.5,183.7 C847.7,182.5 851.0,181.4 854.2,180.3 C857.4,179.2 860.7,178.1 863.9,177.0 C867.2,175.9 870.5,174.9 873.7,173.9 C877.0,172.9 880.3,171.9 883.6,170.9 C886.9,170.0 890.2,169.1 893.5,168.2 C896.8,167.3 900.1,166.5 903.4,165.7 C906.7,164.9 910.0,164.1 913.3,163.4 C916.6,162.7 919.9,162.0 923.2,161.3 C926.5,160.7 929.8,160.1 933.2,159.5 C936.5,159.0 939.8,158.4 943.1,158.0 C946.4,157.5 949.7,157.0 953.0,156.6 C956.4,156.2 959.7,155.8 963.0,155.4 C966.3,155.1 969.6,154.8 972.9,154.5 C976.3,154.2 979.6,153.9 982.9,153.6 C986.2,153.4 989.5,153.2 992.9,153.0 C996.2,152.8 999.5,152.6 1002.8,152.5 C1006.2,152.4 1009.5,152.3 1012.8,152.2 C1016.1,152.2 1019.5,152.1 1022.8,152.1 C1026.1,152.0 1029.4,152.0 1032.8,152.0 C1036.1,152.0 1039.4,152.0 1042.7,152.0 C1046.1,152.0 1049.4,152.0 1052.7,152.0 C1056.0,152.0 1059.4,152.0 1062.7,152.0 C1066.0,152.0 1069.4,152.0 1072.7,152.0 C1076.0,152.0 1079.3,151.9 1082.7,151.8 C1086.0,151.8 1089.3,151.7 1092.7,151.6 C1096.0,151.6 1099.3,151.5 1102.7,151.4 C1106.0,151.4 1109.3,151.3 1112.7,151.2 C1116.0,151.1 1119.3,151.0 1122.7,151.0 C1126.0,150.9 1129.4,150.8 1132.7,150.7 C1136.0,150.6 1139.4,150.5 1142.7,150.4 C1146.1,150.3 1149.4,150.2 1152.7,150.1 C1156.1,150.0 1159.4,149.9 1162.8,149.8 C1166.1,149.7 1169.4,149.6 1172.8,149.5 C1176.1,149.4 1179.5,149.3 1182.8,149.2 C1186.2,149.1 1189.5,149.0 1192.9,148.9 C1196.2,148.8 1199.6,148.7 1202.9,148.6 C1206.2,148.5 1209.6,148.4 1212.9,148.4 C1216.3,148.3 1219.6,148.2 1223.0,148.1 C1226.3,148.0 1229.7,147.9 1233.0,147.8 C1236.4,147.7 1239.7,147.6 1243.1,147.5 C1246.4,147.4 1249.8,147.3 1253.2,147.3 C1256.5,147.2 1259.9,147.1 1263.2,147.0 C1266.6,146.9 1269.9,146.9 1273.3,146.8 C1276.6,146.7 1280.0,146.7 1283.3,146.6 C1286.7,146.5 1290.1,146.4 1293.4,146.4 C1296.8,146.3 1300.1,146.3 1303.5,146.2 C1306.8,146.1 1310.2,146.1 1313.6,146.0 C1316.9,146.0 1320.3,145.9 1323.6,145.8 C1327.0,145.8 1330.4,145.7 1333.7,145.7 C1337.1,145.6 1340.4,145.6 1343.8,145.5 C1347.2,145.5 1350.5,145.5 1353.9,145.4 C1357.2,145.4 1360.6,145.3 1364.0,145.3 C1367.3,145.2 1370.7,145.2 1374.1,145.2 C1377.4,145.1 1380.8,145.1 1384.1,145.1 C1387.5,145.0 1390.9,145.0 1394.2,145.0 C1397.6,144.9 1401.0,144.9 1404.3,144.9 C1407.7,144.9 1411.1,144.8 1414.4,144.8 C1417.8,144.8 1421.2,144.8 1424.5,144.7 C1427.9,144.7 1431.2,144.7 1434.6,144.7 C1438.0,144.7 1441.3,144.7 1444.7,144.6 C1448.1,144.6 1451.4,144.6 1454.8,144.6 C1458.2,144.6 1461.5,144.6 1464.9,144.6 C1468.3,144.5 1471.7,144.5 1475.0,144.5 C1478.4,144.5 1481.8,144.5 1485.1,144.5 C1488.5,144.5 1491.9,144.5 1495.2,144.5 C1498.6,144.5 1502.0,144.5 1505.3,144.5 C1508.7,144.5 1512.1,144.5 1515.4,144.5 C1518.8,144.5 1522.2,144.5 1525.5,144.5 C1528.9,144.5 1532.3,144.5 1535.7,144.5 C1539.0,144.5 1542.4,144.5 1545.8,144.5 C1549.1,144.5 1552.5,144.5 1555.9,144.5 C1559.2,144.5 1562.6,144.5 1566.0,144.5 C1569.3,144.5 1572.7,144.5 1576.1,144.6 C1579.5,144.6 1582.8,144.6 1586.2,144.6 C1589.6,144.6 1592.9,144.6 1596.3,144.6 C1599.7,144.6 1603.0,144.6 1606.4,144.6 C1609.8,144.7 1613.1,144.7 1616.5,144.7 C1619.9,144.7 1623.3,144.7 1626.6,144.7 C1630.0,144.7 1633.4,144.8 1636.7,144.8 C1640.1,144.8 1643.5,144.8 1646.8,144.8 C1650.2,144.8 1653.6,144.8 1656.9,144.9 C1660.3,144.9 1663.7,144.9 1667.0,144.9 C1670.4,144.9 1673.8,144.9 1677.2,145.0 C1680.5,145.0 1683.9,145.0 1687.3,145.0 C1690.6,145.0 1694.0,145.0 1697.4,145.1 C1700.7,145.1 1704.1,145.1 1707.5,145.1 C1710.8,145.1 1714.2,145.1 1717.6,145.2 C1720.9,145.2 1724.3,145.2 1727.7,145.2 C1731.0,145.2 1734.4,145.2 1737.8,145.3 C1741.1,145.3 1744.5,145.3 1747.8,145.3 C1751.2,145.3 1754.6,145.3 1757.9,145.4 C1761.3,145.4 1764.7,145.4 1768.0,145.4 C1771.4,145.4 1774.8,145.4 1778.1,145.4 C1781.5,145.5 1784.8,145.5 1788.2,145.5 C1791.6,145.5 1794.9,145.5 1798.3,145.5 C1801.7,145.5 1805.0,145.6 1808.4,145.6 C1811.7,145.6 1815.1,145.6 1818.5,145.6 C1821.8,145.6 1825.2,145.6 1828.5,145.6 C1831.9,145.6 1835.3,145.6 1838.6,145.7 C1842.0,145.7 1845.3,145.7 1848.7,145.7 C1852.1,145.7 1855.4,145.7 1858.8,145.7 C1862.1,145.7 1865.5,145.7 1868.8,145.7 C1872.2,145.7 1875.6,145.7 1878.9,145.7 C1882.3,145.7 1885.6,145.7 1889.0,145.7 C1892.3,145.7 1895.7,145.7 1899.0,145.7 C1902.4,145.7 1905.7,145.7 1909.1,145.7 C1912.4,145.7 1915.8,145.7 1919.1,145.7 C1922.5,145.7 1925.8,145.7 1929.2,145.7 C1932.6,145.7 1935.9,145.7 1939.2,145.7 C1942.6,145.6 1945.9,145.6 1949.3,145.6 C1952.6,145.6 1956.0,145.6 1959.3,145.6 C1962.7,145.6 1966.0,145.6 1969.4,145.5 C1972.7,145.5 1976.1,145.5 1979.4,145.5 C1982.8,145.5 1986.1,145.4 1989.4,145.4 C1992.8,145.4 1996.1,145.4 1999.5,145.3 C2002.8,145.3 2006.1,145.3 2009.5,145.3 C2012.8,145.2 2016.2,145.2 2019.5,145.2 C2022.8,145.1 2026.2,145.1 2029.5,145.1 C2032.9,145.0 2036.2,145.0 2039.5,145.0 C2042.9,144.9 2046.2,144.9 2049.5,144.8 C2052.9,144.8 2056.2,144.8 2059.5,144.7 C2062.9,144.7 2066.2,144.6 2069.5,144.6 C2072.9,144.5 2076.2,144.5 2079.5,144.4 C2082.9,144.4 2086.2,144.3 2089.5,144.3 C2092.8,144.2 2097.8,144.1 2099.5,144.1" stroke="#6CBE82"/>
<path d="M274.8,1035.0 L274.8,950.0 L277.5,971.0 L281.7,970.9 C283.2,969.9 287.5,966.7 290.4,965.1 C293.4,963.5 296.4,962.2 299.5,961.2 C302.6,960.2 305.8,959.4 309.0,958.9 C312.2,958.4 315.4,958.1 318.7,958.0 C321.9,957.9 325.2,958.0 328.5,958.2 C331.9,958.4 335.2,958.8 338.6,959.3 C341.9,959.8 345.3,960.5 348.7,961.1 C352.0,961.8 355.4,962.6 358.8,963.4 C362.2,964.2 365.5,965.0 368.9,965.8 C372.3,966.6 375.7,967.5 379.0,968.2 C382.4,968.9 385.8,969.7 389.1,970.3 C392.5,970.9 395.9,971.4 399.2,971.8 C402.6,972.2 405.9,972.5 409.2,972.5 C412.5,972.6 415.9,972.5 419.2,972.2 C422.5,971.9 425.8,971.4 429.0,970.7 C432.2,970.0 435.4,969.1 438.5,968.0 C441.6,967.0 444.6,965.7 447.5,964.2 C450.4,962.7 453.3,961.1 456.0,959.2 C458.6,957.3 461.2,955.3 463.6,953.0 C466.0,950.8 468.3,948.4 470.4,945.8 C472.6,943.3 474.6,940.6 476.6,937.9 C478.6,935.1 480.4,932.2 482.3,929.4 C484.2,926.5 485.9,923.6 487.7,920.7 C489.5,917.8 491.3,914.9 493.0,911.9 C494.7,909.0 496.4,906.0 498.0,903.1 C499.7,900.1 501.3,897.1 502.9,894.2 C504.5,891.2 506.1,888.2 507.6,885.2 C509.1,882.2 510.6,879.2 512.0,876.1 C513.5,873.1 514.9,870.1 516.3,867.0 C517.7,864.0 519.0,860.9 520.4,857.9 C521.7,854.8 523.0,851.7 524.2,848.7 C525.5,845.6 526.7,842.5 527.9,839.4 C529.2,836.3 530.3,833.2 531.5,830.1 C532.7,827.0 533.8,823.9 534.9,820.7 C536.0,817.6 537.1,814.5 538.2,811.3 C539.3,808.2 540.4,805.0 541.4,801.9 C542.5,798.7 543.5,795.6 544.5,792.4 C545.6,789.2 546.6,786.1 547.6,782.9 C548.6,779.7 549.6,776.5 550.6,773.3 C551.5,770.2 552.5,767.0 553.5,763.8 C554.5,760.6 555.5,757.4 556.4,754.2 C557.4,751.0 558.4,747.7 559.4,744.5 C560.3,741.3 561.3,738.1 562.3,734.9 C563.3,731.7 564.2,728.4 565.2,725.2 C566.2,722.0 567.2,718.8 568.2,715.5 C569.2,712.3 570.2,709.1 571.1,705.8 C572.1,702.6 573.1,699.4 574.1,696.1 C575.1,692.9 576.1,689.6 577.1,686.4 C578.1,683.2 579.1,679.9 580.1,676.7 C581.1,673.4 582.1,670.2 583.1,667.0 C584.1,663.7 585.1,660.5 586.1,657.2 C587.1,654.0 588.1,650.7 589.1,647.5 C590.1,644.3 591.1,641.0 592.2,637.8 C593.2,634.6 594.2,631.3 595.2,628.1 C596.2,624.9 597.2,621.6 598.2,618.4 C599.2,615.2 600.2,611.9 601.3,608.7 C602.3,605.5 603.2,602.2 604.3,599.0 C605.3,595.8 606.3,592.6 607.3,589.4 C608.3,586.1 609.3,582.9 610.3,579.7 C611.4,576.5 612.4,573.3 613.4,570.1 C614.5,566.9 615.5,563.7 616.6,560.5 C617.6,557.3 618.7,554.1 619.8,550.9 C620.8,547.8 621.9,544.6 623.0,541.4 C624.1,538.2 625.2,535.1 626.3,531.9 C627.4,528.8 628.6,525.6 629.7,522.5 C630.8,519.3 632.0,516.2 633.2,513.0 C634.3,509.9 635.5,506.8 636.7,503.7 C637.9,500.5 639.1,497.4 640.4,494.3 C641.6,491.2 642.8,488.1 644.1,485.0 C645.4,482.0 646.6,478.9 647.9,475.8 C649.2,472.7 650.6,469.7 651.9,466.6 C653.2,463.5 654.6,460.5 656.0,457.5 C657.3,454.4 658.7,451.4 660.1,448.4 C661.6,445.3 663.0,442.3 664.4,439.3 C665.9,436.3 667.4,433.3 668.9,430.3 C670.4,427.3 671.9,424.3 673.4,421.3 C675.0,418.3 676.5,415.4 678.1,412.4 C679.7,409.5 681.4,406.5 683.0,403.6 C684.7,400.7 686.4,397.7 688.1,394.8 C689.8,391.9 691.5,389.0 693.3,386.1 C695.1,383.2 696.8,380.3 698.7,377.5 C700.5,374.6 702.3,371.7 704.2,368.9 C706.0,366.0 707.9,363.2 709.9,360.3 C711.8,357.5 713.7,354.7 715.7,351.9 C717.7,349.1 719.7,346.4 721.7,343.6 C723.8,340.9 725.8,338.2 727.9,335.5 C730.0,332.8 732.2,330.1 734.3,327.5 C736.5,324.8 738.7,322.2 740.9,319.7 C743.1,317.1 745.4,314.5 747.6,312.0 C749.9,309.5 752.2,307.1 754.6,304.6 C756.9,302.2 759.3,299.8 761.7,297.4 C764.2,295.1 766.6,292.8 769.1,290.5 C771.6,288.3 774.1,286.0 776.7,283.9 C779.2,281.7 781.8,279.6 784.4,277.5 C787.1,275.4 789.7,273.4 792.4,271.4 C795.1,269.5 797.9,267.6 800.6,265.7 C803.4,263.9 806.2,262.1 809.0,260.3 C811.9,258.6 814.7,256.8 817.6,255.1 C820.4,253.4 823.3,251.8 826.2,250.1 C829.0,248.5 831.9,246.8 834.8,245.2 C837.7,243.5 840.6,241.9 843.5,240.3 C846.4,238.7 849.3,237.1 852.3,235.4 C855.2,233.8 858.1,232.2 861.1,230.6 C864.0,229.0 867.0,227.4 870.0,225.8 C873.0,224.2 876.0,222.6 879.0,221.0 C882.0,219.4 885.1,217.8 888.1,216.2 C891.2,214.6 894.2,213.1 897.3,211.6 C900.4,210.0 903.5,208.5 906.6,207.1 C909.7,205.6 912.9,204.2 916.0,202.8 C919.1,201.4 922.3,200.1 925.4,198.8 C928.6,197.5 931.8,196.3 934.9,195.2 C938.1,194.0 941.3,192.9 944.5,191.9 C947.7,190.9 950.9,189.9 954.1,189.0 C957.3,188.1 960.5,187.3 963.7,186.5 C967.0,185.6 970.2,184.8 973.4,184.0 C976.6,183.2 979.8,182.5 983.1,181.7 C986.3,181.0 989.5,180.2 992.8,179.5 C996.0,178.7 999.2,178.0 1002.5,177.4 C1005.7,176.7 1009.0,176.0 1012.3,175.4 C1015.5,174.7 1018.8,174.1 1022.1,173.5 C1025.3,172.9 1028.6,172.3 1031.9,171.7 C1035.2,171.1 1038.4,170.5 1041.7,170.0 C1045.0,169.4 1048.3,168.9 1051.6,168.3 C1054.9,167.8 1058.2,167.3 1061.5,166.8 C1064.8,166.3 1068.1,165.8 1071.4,165.3 C1074.7,164.8 1078.0,164.3 1081.3,163.8 C1084.6,163.4 1087.9,162.9 1091.2,162.5 C1094.5,162.0 1097.9,161.6 1101.2,161.2 C1104.5,160.8 1107.8,160.3 1111.1,159.9 C1114.5,159.5 1117.8,159.2 1121.1,158.8 C1124.5,158.4 1127.8,158.0 1131.1,157.7 C1134.5,157.3 1137.8,157.0 1141.1,156.6 C1144.5,156.3 1147.8,156.0 1151.2,155.6 C1154.5,155.3 1157.9,154.9 1161.2,154.6 C1164.5,154.2 1167.9,153.9 1171.2,153.6 C1174.6,153.2 1177.9,152.9 1181.3,152.6 C1184.7,152.3 1188.0,152.0 1191.4,151.7 C1194.7,151.4 1198.1,151.1 1201.4,150.9 C1204.8,150.6 1208.2,150.3 1211.5,150.1 C1214.9,149.8 1218.3,149.5 1221.6,149.3 C1225.0,149.1 1228.4,148.8 1231.7,148.6 C1235.1,148.3 1238.5,148.1 1241.8,147.9 C1245.2,147.7 1248.6,147.5 1252.0,147.3 C1255.3,147.0 1258.7,146.8 1262.1,146.6 C1265.5,146.4 1268.8,146.3 1272.2,146.1 C1275.6,145.9 1279.0,145.7 1282.3,145.5 C1285.7,145.3 1289.1,145.2 1292.5,145.0 C1295.8,144.8 1299.2,144.7 1302.6,144.5 C1306.0,144.4 1309.4,144.2 1312.7,144.1 C1316.1,143.9 1319.5,143.8 1322.9,143.6 C1326.3,143.5 1329.6,143.4 1333.0,143.2 C1336.4,143.1 1339.8,143.0 1343.2,142.8 C1346.5,142.7 1349.9,142.6 1353.3,142.5 C1356.7,142.3 1360.0,142.2 1363.4,142.1 C1366.8,142.0 1370.2,141.9 1373.5,141.8 C1376.9,141.7 1380.3,141.5 1383.7,141.4 C1387.0,141.3 1390.4,141.2 1393.8,141.1 C1397.2,141.0 1400.5,140.9 1403.9,140.8 C1407.3,140.7 1410.6,140.6 1414.0,140.5 C1417.4,140.4 1420.8,140.4 1424.1,140.3 C1427.5,140.2 1430.9,140.1 1434.2,140.0 C1437.6,139.9 1441.0,139.8 1444.3,139.8 C1447.7,139.7 1451.1,139.6 1454.4,139.5 C1457.8,139.4 1461.2,139.4 1464.5,139.3 C1467.9,139.2 1471.3,139.2 1474.6,139.1 C1478.0,139.0 1481.3,138.9 1484.7,138.9 C1488.1,138.8 1491.4,138.8 1494.8,138.7 C1498.2,138.6 1501.5,138.6 1504.9,138.5 C1508.2,138.5 1511.6,138.4 1515.0,138.3 C1518.3,138.3 1521.7,138.2 1525.0,138.2 C1528.4,138.1 1531.8,138.1 1535.1,138.0 C1538.5,138.0 1541.8,137.9 1545.2,137.9 C1548.5,137.9 1551.9,137.8 1555.3,137.8 C1558.6,137.7 1562.0,137.7 1565.3,137.7 C1568.7,137.6 1572.0,137.6 1575.4,137.5 C1578.8,137.5 1582.1,137.5 1585.5,137.4 C1588.8,137.4 1592.2,137.4 1595.5,137.3 C1598.9,137.3 1602.2,137.3 1605.6,137.3 C1609.0,137.2 1612.3,137.2 1615.7,137.2 C1619.0,137.2 1622.4,137.1 1625.7,137.1 C1629.1,137.1 1632.4,137.1 1635.8,137.1 C1639.1,137.0 1642.5,137.0 1645.8,137.0 C1649.2,137.0 1652.6,137.0 1655.9,137.0 C1659.3,136.9 1662.6,136.9 1666.0,136.9 C1669.3,136.9 1672.7,136.9 1676.0,136.9 C1679.4,136.9 1682.7,136.9 1686.1,136.9 C1689.4,136.9 1692.8,136.8 1696.1,136.8 C1699.5,136.8 1702.8,136.8 1706.2,136.8 C1709.5,136.8 1712.9,136.8 1716.2,136.8 C1719.6,136.8 1723.0,136.8 1726.3,136.8 C1729.7,136.8 1733.0,136.8 1736.4,136.8 C1739.7,136.8 1743.1,136.8 1746.4,136.8 C1749.8,136.8 1753.1,136.8 1756.5,136.8 C1759.8,136.8 1763.2,136.8 1766.5,136.9 C1769.9,136.9 1773.2,136.9 1776.6,136.9 C1779.9,136.9 1783.3,136.9 1786.7,136.9 C1790.0,136.9 1793.4,136.9 1796.7,136.9 C1800.1,136.9 1803.4,137.0 1806.8,137.0 C1810.1,137.0 1813.5,137.0 1816.8,137.0 C1820.2,137.0 1823.5,137.0 1826.9,137.0 C1830.3,137.0 1833.6,137.1 1837.0,137.1 C1840.3,137.1 1843.7,137.1 1847.0,137.1 C1850.4,137.1 1853.7,137.2 1857.1,137.2 C1860.5,137.2 1863.8,137.2 1867.2,137.2 C1870.5,137.2 1873.9,137.2 1877.2,137.3 C1880.6,137.3 1884.0,137.3 1887.3,137.3 C1890.7,137.3 1894.0,137.4 1897.4,137.4 C1900.7,137.4 1904.1,137.4 1907.5,137.4 C1910.8,137.4 1914.2,137.5 1917.5,137.5 C1920.9,137.5 1924.3,137.5 1927.6,137.5 C1931.0,137.5 1934.3,137.6 1937.7,137.6 C1941.1,137.6 1944.4,137.6 1947.8,137.6 C1951.2,137.7 1954.5,137.7 1957.9,137.7 C1961.2,137.7 1964.6,137.7 1968.0,137.7 C1971.3,137.8 1974.7,137.8 1978.1,137.8 C1981.4,137.8 1984.8,137.8 1988.2,137.9 C1991.5,137.9 1994.9,137.9 1998.3,137.9 C2001.6,137.9 2005.0,137.9 2008.4,138.0 C2011.7,138.0 2015.1,138.0 2018.5,138.0 C2021.9,138.0 2025.2,138.0 2028.6,138.1 C2032.0,138.1 2035.3,138.1 2038.7,138.1 C2042.1,138.1 2045.5,138.1 2048.8,138.1 C2052.2,138.2 2055.6,138.2 2059.0,138.2 C2062.3,138.2 2065.7,138.2 2069.1,138.2 C2072.5,138.2 2075.8,138.2 2079.2,138.2 C2082.6,138.3 2086.0,138.3 2089.4,138.3 C2092.7,138.3 2097.8,138.3 2099.5,138.3" stroke="#6A8FCF"/>
<path d="M275.0,1392.0 L275.0,1240.0 L275.0,1250.0 L279.0,1250.0 C280.6,1249.9 285.5,1249.8 288.8,1249.7 C292.0,1249.6 295.4,1249.5 298.7,1249.4 C302.1,1249.4 305.5,1249.3 308.9,1249.3 C312.3,1249.2 315.7,1249.2 319.1,1249.2 C322.6,1249.1 326.0,1249.1 329.4,1249.1 C332.9,1249.0 336.3,1248.9 339.7,1248.7 C343.1,1248.6 346.5,1248.4 349.8,1248.1 C353.2,1247.8 356.5,1247.4 359.8,1246.9 C363.1,1246.3 366.3,1245.7 369.5,1244.9 C372.7,1244.0 375.8,1243.1 378.9,1241.8 C381.9,1240.5 384.9,1239.0 387.8,1237.3 C390.7,1235.5 393.5,1233.4 396.2,1231.2 C398.8,1229.0 401.4,1226.5 403.9,1224.0 C406.4,1221.6 408.7,1218.9 411.0,1216.3 C413.2,1213.7 415.3,1211.0 417.3,1208.4 C419.3,1205.7 421.2,1203.0 423.0,1200.2 C424.8,1197.5 426.5,1194.7 428.1,1191.9 C429.8,1189.1 431.3,1186.3 432.9,1183.4 C434.4,1180.6 435.9,1177.7 437.3,1174.8 C438.7,1171.9 440.1,1168.9 441.5,1166.0 C442.9,1163.0 444.2,1160.1 445.6,1157.1 C447.0,1154.1 448.3,1151.0 449.7,1148.0 C451.0,1145.0 452.3,1141.9 453.6,1138.8 C454.9,1135.8 456.2,1132.7 457.5,1129.6 C458.8,1126.4 460.0,1123.3 461.2,1120.2 C462.5,1117.0 463.7,1113.9 464.8,1110.7 C466.0,1107.5 467.1,1104.3 468.2,1101.1 C469.3,1097.9 470.3,1094.7 471.3,1091.5 C472.3,1088.3 473.3,1085.0 474.3,1081.8 C475.2,1078.6 476.1,1075.3 477.0,1072.1 C477.9,1068.8 478.7,1065.5 479.6,1062.3 C480.4,1059.0 481.2,1055.7 482.0,1052.4 C482.8,1049.2 483.6,1045.9 484.4,1042.6 C485.1,1039.3 485.9,1036.0 486.6,1032.7 C487.4,1029.4 488.1,1026.1 488.8,1022.8 C489.6,1019.5 490.3,1016.2 491.0,1013.0 C491.7,1009.7 492.4,1006.4 493.1,1003.1 C493.9,999.8 494.6,996.5 495.3,993.2 C496.0,989.9 496.7,986.6 497.3,983.3 C498.0,980.0 498.7,976.7 499.4,973.4 C500.1,970.2 500.8,966.9 501.5,963.6 C502.1,960.3 502.8,957.0 503.5,953.7 C504.1,950.4 504.8,947.1 505.5,943.8 C506.1,940.5 506.8,937.2 507.4,934.0 C508.1,930.7 508.8,927.4 509.4,924.1 C510.1,920.8 510.7,917.5 511.3,914.2 C512.0,910.9 512.6,907.6 513.3,904.3 C513.9,901.1 514.6,897.8 515.2,894.5 C515.8,891.2 516.5,887.9 517.1,884.6 C517.7,881.3 518.4,878.0 519.0,874.7 C519.6,871.5 520.3,868.2 520.9,864.9 C521.5,861.6 522.1,858.3 522.8,855.0 C523.4,851.7 524.0,848.4 524.6,845.2 C525.3,841.9 525.9,838.6 526.5,835.3 C527.1,832.0 527.7,828.7 528.4,825.4 C529.0,822.1 529.6,818.9 530.2,815.6 C530.9,812.3 531.5,809.0 532.1,805.7 C532.7,802.4 533.3,799.2 534.0,795.9 C534.6,792.6 535.2,789.3 535.8,786.0 C536.5,782.7 537.1,779.4 537.7,776.2 C538.3,772.9 539.0,769.6 539.6,766.3 C540.2,763.0 540.8,759.7 541.5,756.5 C542.1,753.2 542.7,749.9 543.4,746.6 C544.0,743.3 544.6,740.0 545.3,736.8 C545.9,733.5 546.5,730.2 547.2,726.9 C547.8,723.6 548.5,720.4 549.1,717.1 C549.8,713.8 550.4,710.5 551.1,707.2 C551.7,703.9 552.4,700.7 553.0,697.4 C553.7,694.1 554.3,690.8 555.0,687.5 C555.7,684.3 556.3,681.0 557.0,677.7 C557.7,674.4 558.3,671.2 559.0,667.9 C559.7,664.6 560.4,661.3 561.0,658.0 C561.7,654.8 562.4,651.5 563.1,648.2 C563.8,644.9 564.5,641.7 565.2,638.4 C565.9,635.1 566.6,631.8 567.3,628.5 C568.0,625.3 568.7,622.0 569.4,618.7 C570.2,615.4 570.9,612.2 571.6,608.9 C572.3,605.6 573.1,602.3 573.8,599.1 C574.6,595.8 575.3,592.5 576.0,589.2 C576.8,586.0 577.6,582.7 578.3,579.4 C579.1,576.2 579.8,572.9 580.6,569.6 C581.4,566.3 582.2,563.1 583.0,559.8 C583.7,556.5 584.5,553.2 585.3,550.0 C586.1,546.7 586.9,543.4 587.7,540.2 C588.6,536.9 589.4,533.6 590.2,530.3 C591.0,527.1 591.9,523.8 592.7,520.5 C593.5,517.3 594.4,514.0 595.3,510.7 C596.1,507.5 597.0,504.2 597.9,501.0 C598.8,497.7 599.7,494.4 600.6,491.2 C601.5,487.9 602.4,484.7 603.4,481.5 C604.3,478.2 605.3,475.0 606.3,471.7 C607.3,468.5 608.3,465.3 609.3,462.1 C610.4,458.9 611.4,455.7 612.5,452.5 C613.6,449.3 614.7,446.1 615.8,442.9 C616.9,439.7 618.1,436.5 619.2,433.4 C620.4,430.2 621.6,427.1 622.8,423.9 C624.0,420.8 625.2,417.6 626.5,414.5 C627.7,411.4 629.0,408.3 630.3,405.2 C631.6,402.1 632.9,399.1 634.2,396.0 C635.5,392.9 636.9,389.9 638.2,386.9 C639.6,383.8 641.0,380.8 642.4,377.8 C643.8,374.8 645.3,371.8 646.7,368.9 C648.2,365.9 649.6,362.9 651.1,360.0 C652.6,357.0 654.1,354.0 655.6,351.1 C657.2,348.1 658.7,345.2 660.3,342.3 C661.8,339.3 663.4,336.4 665.0,333.4 C666.6,330.5 668.2,327.5 669.8,324.6 C671.5,321.6 673.1,318.6 674.8,315.6 C676.5,312.7 678.2,309.7 679.9,306.7 C681.6,303.7 683.3,300.8 685.1,297.8 C686.9,294.9 688.7,292.0 690.5,289.1 C692.4,286.2 694.3,283.3 696.2,280.5 C698.1,277.7 700.1,274.9 702.1,272.2 C704.1,269.5 706.2,266.9 708.3,264.3 C710.5,261.7 712.6,259.2 714.9,256.8 C717.1,254.3 719.4,252.0 721.8,249.7 C724.2,247.5 726.6,245.3 729.1,243.2 C731.6,241.1 734.2,239.1 736.8,237.1 C739.4,235.2 742.0,233.3 744.8,231.5 C747.5,229.7 750.2,227.9 753.0,226.2 C755.8,224.5 758.6,222.9 761.5,221.3 C764.4,219.7 767.3,218.2 770.3,216.7 C773.2,215.1 776.2,213.7 779.2,212.2 C782.2,210.8 785.2,209.4 788.3,208.0 C791.3,206.6 794.4,205.3 797.5,203.9 C800.6,202.6 803.7,201.2 806.8,199.9 C810.0,198.6 813.1,197.3 816.3,196.0 C819.4,194.7 822.6,193.5 825.7,192.2 C828.9,191.0 832.1,189.7 835.3,188.5 C838.5,187.3 841.7,186.1 844.9,184.9 C848.2,183.8 851.4,182.6 854.6,181.5 C857.9,180.4 861.1,179.3 864.4,178.2 C867.6,177.2 870.9,176.1 874.1,175.1 C877.4,174.1 880.7,173.1 883.9,172.2 C887.2,171.2 890.5,170.3 893.8,169.5 C897.1,168.6 900.4,167.7 903.7,166.9 C907.0,166.1 910.3,165.4 913.6,164.7 C916.9,163.9 920.2,163.3 923.5,162.6 C926.8,162.0 930.1,161.4 933.4,160.8 C936.7,160.2 940.0,159.7 943.3,159.2 C946.6,158.8 949.9,158.3 953.2,157.9 C956.5,157.5 959.8,157.1 963.1,156.7 C966.4,156.4 969.8,156.1 973.1,155.8 C976.4,155.5 979.7,155.2 983.0,154.9 C986.3,154.7 989.6,154.5 992.9,154.3 C996.3,154.1 999.6,153.9 1002.9,153.7 C1006.2,153.6 1009.5,153.4 1012.8,153.3 C1016.2,153.2 1019.5,153.0 1022.8,152.9 C1026.1,152.8 1029.5,152.8 1032.8,152.7 C1036.1,152.6 1039.4,152.5 1042.7,152.5 C1046.1,152.4 1049.4,152.3 1052.7,152.3 C1056.0,152.2 1059.4,152.2 1062.7,152.1 C1066.0,152.1 1069.4,152.0 1072.7,152.0 C1076.0,151.9 1079.3,151.9 1082.7,151.8 C1086.0,151.8 1089.3,151.7 1092.7,151.6 C1096.0,151.6 1099.3,151.5 1102.7,151.4 C1106.0,151.4 1109.3,151.3 1112.7,151.2 C1116.0,151.1 1119.3,151.0 1122.7,151.0 C1126.0,150.9 1129.4,150.8 1132.7,150.7 C1136.0,150.6 1139.4,150.5 1142.7,150.4 C1146.1,150.3 1149.4,150.2 1152.7,150.1 C1156.1,150.0 1159.4,149.9 1162.8,149.8 C1166.1,149.7 1169.4,149.6 1172.8,149.5 C1176.1,149.4 1179.5,149.3 1182.8,149.2 C1186.2,149.1 1189.5,149.0 1192.9,148.9 C1196.2,148.8 1199.6,148.7 1202.9,148.6 C1206.2,148.5 1209.6,148.4 1212.9,148.4 C1216.3,148.3 1219.6,148.2 1223.0,148.1 C1226.3,148.0 1229.7,147.9 1233.0,147.8 C1236.4,147.7 1239.7,147.6 1243.1,147.5 C1246.4,147.4 1249.8,147.3 1253.2,147.3 C1256.5,147.2 1259.9,147.1 1263.2,147.0 C1266.6,146.9 1269.9,146.9 1273.3,146.8 C1276.6,146.7 1280.0,146.7 1283.3,146.6 C1286.7,146.5 1290.1,146.4 1293.4,146.4 C1296.8,146.3 1300.1,146.3 1303.5,146.2 C1306.8,146.1 1310.2,146.1 1313.6,146.0 C1316.9,146.0 1320.3,145.9 1323.6,145.8 C1327.0,145.8 1330.4,145.7 1333.7,145.7 C1337.1,145.6 1340.4,145.6 1343.8,145.5 C1347.2,145.5 1350.5,145.5 1353.9,145.4 C1357.2,145.4 1360.6,145.3 1364.0,145.3 C1367.3,145.2 1370.7,145.2 1374.1,145.2 C1377.4,145.1 1380.8,145.1 1384.1,145.1 C1387.5,145.0 1390.9,145.0 1394.2,145.0 C1397.6,144.9 1401.0,144.9 1404.3,144.9 C1407.7,144.9 1411.1,144.8 1414.4,144.8 C1417.8,144.8 1421.2,144.8 1424.5,144.7 C1427.9,144.7 1431.2,144.7 1434.6,144.7 C1438.0,144.7 1441.3,144.7 1444.7,144.6 C1448.1,144.6 1451.4,144.6 1454.8,144.6 C1458.2,144.6 1461.5,144.6 1464.9,144.6 C1468.3,144.5 1471.7,144.5 1475.0,144.5 C1478.4,144.5 1481.8,144.5 1485.1,144.5 C1488.5,144.5 1491.9,144.5 1495.2,144.5 C1498.6,144.5 1502.0,144.5 1505.3,144.5 C1508.7,144.5 1512.1,144.5 1515.4,144.5 C1518.8,144.5 1522.2,144.5 1525.5,144.5 C1528.9,144.5 1532.3,144.5 1535.7,144.5 C1539.0,144.5 1542.4,144.5 1545.8,144.5 C1549.1,144.5 1552.5,144.5 1555.9,144.5 C1559.2,144.5 1562.6,144.5 1566.0,144.5 C1569.3,144.5 1572.7,144.5 1576.1,144.6 C1579.5,144.6 1582.8,144.6 1586.2,144.6 C1589.6,144.6 1592.9,144.6 1596.3,144.6 C1599.7,144.6 1603.0,144.6 1606.4,144.6 C1609.8,144.7 1613.1,144.7 1616.5,144.7 C1619.9,144.7 1623.3,144.7 1626.6,144.7 C1630.0,144.7 1633.4,144.8 1636.7,144.8 C1640.1,144.8 1643.5,144.8 1646.8,144.8 C1650.2,144.8 1653.6,144.8 1656.9,144.9 C1660.3,144.9 1663.7,144.9 1667.0,144.9 C1670.4,144.9 1673.8,144.9 1677.2,145.0 C1680.5,145.0 1683.9,145.0 1687.3,145.0 C1690.6,145.0 1694.0,145.0 1697.4,145.1 C1700.7,145.1 1704.1,145.1 1707.5,145.1 C1710.8,145.1 1714.2,145.1 1717.6,145.2 C1720.9,145.2 1724.3,145.2 1727.7,145.2 C1731.0,145.2 1734.4,145.2 1737.8,145.3 C1741.1,145.3 1744.5,145.3 1747.8,145.3 C1751.2,145.3 1754.6,145.3 1757.9,145.4 C1761.3,145.4 1764.7,145.4 1768.0,145.4 C1771.4,145.4 1774.8,145.4 1778.1,145.4 C1781.5,145.5 1784.8,145.5 1788.2,145.5 C1791.6,145.5 1794.9,145.5 1798.3,145.5 C1801.7,145.5 1805.0,145.6 1808.4,145.6 C1811.7,145.6 1815.1,145.6 1818.5,145.6 C1821.8,145.6 1825.2,145.6 1828.5,145.6 C1831.9,145.6 1835.3,145.6 1838.6,145.7 C1842.0,145.7 1845.3,145.7 1848.7,145.7 C1852.1,145.7 1855.4,145.7 1858.8,145.7 C1862.1,145.7 1865.5,145.7 1868.8,145.7 C1872.2,145.7 1875.6,145.7 1878.9,145.7 C1882.3,145.7 1885.6,145.7 1889.0,145.7 C1892.3,145.7 1895.7,145.7 1899.0,145.7 C1902.4,145.7 1905.7,145.7 1909.1,145.7 C1912.4,145.7 1915.8,145.7 1919.1,145.7 C1922.5,145.7 1925.8,145.7 1929.2,145.7 C1932.6,145.7 1935.9,145.7 1939.2,145.7 C1942.6,145.6 1945.9,145.6 1949.3,145.6 C1952.6,145.6 1956.0,145.6 1959.3,145.6 C1962.7,145.6 1966.0,145.6 1969.4,145.5 C1972.7,145.5 1976.1,145.5 1979.4,145.5 C1982.8,145.5 1986.1,145.4 1989.4,145.4 C1992.8,145.4 1996.1,145.4 1999.5,145.3 C2002.8,145.3 2006.1,145.3 2009.5,145.3 C2012.8,145.2 2016.2,145.2 2019.5,145.2 C2022.8,145.1 2026.2,145.1 2029.5,145.1 C2032.9,145.0 2036.2,145.0 2039.5,145.0 C2042.9,144.9 2046.2,144.9 2049.5,144.8 C2052.9,144.8 2056.2,144.8 2059.5,144.7 C2062.9,144.7 2066.2,144.6 2069.5,144.6 C2072.9,144.5 2076.2,144.5 2079.5,144.4 C2082.9,144.4 2086.2,144.3 2089.5,144.3 C2092.8,144.2 2097.8,144.1 2099.5,144.1" stroke="#2A2D7C"/>
<path d="M274.8,1035.0 L274.8,950.0 L277.5,971.0 L281.7,970.9 C283.2,969.9 287.5,966.7 290.4,965.1 C293.4,963.5 296.4,962.2 299.5,961.2 C302.6,960.2 305.8,959.4 309.0,958.9 C312.2,958.4 315.4,958.1 318.7,958.0 C321.9,957.9 325.2,958.0 328.5,958.2 C331.9,958.4 335.2,958.8 338.6,959.3 C341.9,959.8 345.3,960.5 348.7,961.1 C352.0,961.8 355.4,962.6 358.8,963.4 C362.2,964.2 365.5,965.0 368.9,965.8 C372.3,966.6 375.7,967.5 379.0,968.2 C382.4,968.9 385.8,969.7 389.1,970.3 C392.5,970.9 395.9,971.4 399.2,971.8 C402.6,972.2 405.9,972.5 409.2,972.5 C412.5,972.6 415.9,972.5 419.2,972.2 C422.5,971.9 425.8,971.4 429.0,970.7 C432.2,970.0 435.4,969.1 438.5,968.0 C441.6,967.0 444.6,965.7 447.5,964.2 C450.4,962.7 453.3,961.1 456.0,959.2 C458.6,957.3 461.2,955.3 463.6,953.0 C466.0,950.8 468.3,948.4 470.4,945.8 C472.6,943.3 474.6,940.6 476.6,937.9 C478.6,935.1 480.4,932.2 482.3,929.4 C484.2,926.5 485.9,923.6 487.7,920.7 C489.5,917.8 491.3,914.9 493.0,911.9 C494.7,909.0 496.4,906.0 498.0,903.1 C499.7,900.1 501.3,897.1 502.9,894.2 C504.5,891.2 506.1,888.2 507.6,885.2 C509.1,882.2 510.6,879.2 512.0,876.1 C513.5,873.1 514.9,870.1 516.3,867.0 C517.7,864.0 519.0,860.9 520.4,857.9 C521.7,854.8 523.0,851.7 524.2,848.7 C525.5,845.6 526.7,842.5 527.9,839.4 C529.2,836.3 530.3,833.2 531.5,830.1 C532.7,827.0 533.8,823.9 534.9,820.7 C536.0,817.6 537.1,814.5 538.2,811.3 C539.3,808.2 540.4,805.0 541.4,801.9 C542.5,798.7 543.5,795.6 544.5,792.4 C545.6,789.2 546.6,786.1 547.6,782.9 C548.6,779.7 549.6,776.5 550.6,773.3 C551.5,770.2 552.5,767.0 553.5,763.8 C554.5,760.6 555.5,757.4 556.4,754.2 C557.4,751.0 558.4,747.7 559.4,744.5 C560.3,741.3 561.3,738.1 562.3,734.9 C563.3,731.7 564.2,728.4 565.2,725.2 C566.2,722.0 567.2,718.8 568.2,715.5 C569.2,712.3 570.2,709.1 571.1,705.8 C572.1,702.6 573.1,699.4 574.1,696.1 C575.1,692.9 576.1,689.6 577.1,686.4 C578.1,683.2 579.1,679.9 580.1,676.7 C581.1,673.4 582.1,670.2 583.1,667.0 C584.1,663.7 585.1,660.5 586.1,657.2 C587.1,654.0 588.1,650.7 589.1,647.5 C590.1,644.3 591.1,641.0 592.2,637.8 C593.2,634.6 594.2,631.3 595.2,628.1 C596.2,624.9 597.2,621.6 598.2,618.4 C599.2,615.2 600.3,611.9 601.3,608.7 C602.3,605.5 603.3,602.3 604.3,599.0 C605.4,595.8 606.4,592.6 607.4,589.4 C608.5,586.2 609.5,583.0 610.6,579.8 C611.6,576.6 612.6,573.4 613.7,570.2 C614.8,567.0 615.8,563.8 616.9,560.6 C618.0,557.4 619.1,554.3 620.2,551.1 C621.3,547.9 622.4,544.7 623.5,541.6 C624.6,538.4 625.7,535.3 626.9,532.1 C628.0,529.0 629.1,525.8 630.3,522.7 C631.5,519.5 632.6,516.4 633.8,513.3 C635.0,510.2 636.2,507.1 637.5,504.0 C638.7,500.8 639.9,497.8 641.2,494.7 C642.4,491.6 643.7,488.5 645.0,485.4 C646.3,482.3 647.6,479.3 648.9,476.2 C650.2,473.2 651.6,470.1 652.9,467.1 C654.3,464.0 655.7,461.0 657.1,458.0 C658.5,454.9 659.9,451.9 661.3,448.9 C662.8,445.9 664.2,442.9 665.7,439.9 C667.2,436.9 668.7,433.9 670.2,431.0 C671.7,428.0 673.3,425.0 674.8,422.1 C676.4,419.1 678.0,416.2 679.6,413.2 C681.2,410.3 682.8,407.4 684.5,404.4 C686.2,401.5 687.8,398.6 689.6,395.7 C691.3,392.8 693.0,389.9 694.7,387.0 C696.5,384.1 698.3,381.2 700.1,378.4 C701.9,375.5 703.7,372.6 705.6,369.8 C707.5,366.9 709.4,364.1 711.3,361.3 C713.2,358.5 715.1,355.7 717.1,352.9 C719.1,350.1 721.1,347.4 723.1,344.7 C725.1,341.9 727.2,339.2 729.3,336.5 C731.4,333.8 733.5,331.2 735.6,328.6 C737.8,325.9 740.0,323.3 742.2,320.8 C744.4,318.2 746.6,315.7 748.9,313.2 C751.2,310.7 753.5,308.2 755.8,305.8 C758.1,303.4 760.5,301.0 762.9,298.7 C765.3,296.3 767.8,294.0 770.2,291.8 C772.7,289.5 775.2,287.3 777.8,285.2 C780.3,283.0 782.9,280.9 785.5,278.8 C788.1,276.8 790.7,274.8 793.4,272.8 C796.1,270.9 798.8,269.0 801.6,267.1 C804.3,265.3 807.1,263.5 809.9,261.8 C812.7,260.0 815.6,258.3 818.4,256.6 C821.3,254.9 824.2,253.3 827.0,251.6 C829.9,249.9 832.8,248.3 835.7,246.7 C838.5,245.0 841.4,243.4 844.3,241.8 C847.2,240.2 850.2,238.5 853.1,236.9 C856.0,235.3 858.9,233.7 861.9,232.1 C864.9,230.5 867.8,228.9 870.8,227.3 C873.8,225.7 876.8,224.1 879.8,222.5 C882.8,220.9 885.9,219.3 888.9,217.7 C891.9,216.2 895.0,214.6 898.1,213.1 C901.2,211.6 904.2,210.1 907.3,208.6 C910.4,207.1 913.5,205.7 916.7,204.4 C919.8,203.0 922.9,201.7 926.1,200.4 C929.2,199.1 932.4,197.9 935.5,196.8 C938.7,195.6 941.9,194.5 945.0,193.5 C948.2,192.5 951.4,191.6 954.6,190.7 C957.8,189.8 961.0,188.9 964.2,188.1 C967.4,187.3 970.6,186.5 973.8,185.7 C977.0,184.9 980.2,184.1 983.5,183.4 C986.7,182.6 989.9,181.9 993.1,181.1 C996.4,180.4 999.6,179.7 1002.8,179.0 C1006.1,178.3 1009.3,177.6 1012.6,176.9 C1015.8,176.2 1019.1,175.6 1022.3,174.9 C1025.6,174.3 1028.9,173.6 1032.1,173.0 C1035.4,172.4 1038.7,171.8 1041.9,171.2 C1045.2,170.6 1048.5,170.0 1051.8,169.4 C1055.1,168.9 1058.3,168.3 1061.6,167.8 C1064.9,167.2 1068.2,166.7 1071.5,166.1 C1074.8,165.6 1078.1,165.1 1081.4,164.6 C1084.7,164.1 1088.0,163.6 1091.3,163.1 C1094.6,162.7 1097.9,162.2 1101.2,161.7 C1104.6,161.3 1107.9,160.8 1111.2,160.4 C1114.5,159.9 1117.8,159.5 1121.2,159.1 C1124.5,158.7 1127.8,158.3 1131.2,157.9 C1134.5,157.5 1137.8,157.1 1141.2,156.7 C1144.5,156.3 1147.8,156.0 1151.2,155.6 C1154.5,155.3 1157.9,154.9 1161.2,154.6 C1164.5,154.2 1167.9,153.9 1171.2,153.6 C1174.6,153.2 1177.9,152.9 1181.3,152.6 C1184.7,152.3 1188.0,152.0 1191.4,151.7 C1194.7,151.4 1198.1,151.1 1201.4,150.9 C1204.8,150.6 1208.2,150.3 1211.5,150.1 C1214.9,149.8 1218.3,149.5 1221.6,149.3 C1225.0,149.1 1228.4,148.8 1231.7,148.6 C1235.1,148.3 1238.5,148.1 1241.8,147.9 C1245.2,147.7 1248.6,147.5 1252.0,147.3 C1255.3,147.0 1258.7,146.8 1262.1,146.6 C1265.5,146.4 1268.8,146.3 1272.2,146.1 C1275.6,145.9 1279.0,145.7 1282.3,145.5 C1285.7,145.3 1289.1,145.2 1292.5,145.0 C1295.8,144.8 1299.2,144.7 1302.6,144.5 C1306.0,144.4 1309.4,144.2 1312.7,144.1 C1316.1,143.9 1319.5,143.8 1322.9,143.6 C1326.3,143.5 1329.6,143.4 1333.0,143.2 C1336.4,143.1 1339.8,143.0 1343.2,142.8 C1346.5,142.7 1349.9,142.6 1353.3,142.5 C1356.7,142.3 1360.0,142.2 1363.4,142.1 C1366.8,142.0 1370.2,141.9 1373.5,141.8 C1376.9,141.7 1380.3,141.5 1383.7,141.4 C1387.0,141.3 1390.4,141.2 1393.8,141.1 C1397.2,141.0 1400.5,140.9 1403.9,140.8 C1407.3,140.7 1410.6,140.6 1414.0,140.5 C1417.4,140.4 1420.8,140.4 1424.1,140.3 C1427.5,140.2 1430.9,140.1 1434.2,140.0 C1437.6,139.9 1441.0,139.8 1444.3,139.8 C1447.7,139.7 1451.1,139.6 1454.4,139.5 C1457.8,139.4 1461.2,139.4 1464.5,139.3 C1467.9,139.2 1471.3,139.2 1474.6,139.1 C1478.0,139.0 1481.3,138.9 1484.7,138.9 C1488.1,138.8 1491.4,138.8 1494.8,138.7 C1498.2,138.6 1501.5,138.6 1504.9,138.5 C1508.2,138.5 1511.6,138.4 1515.0,138.3 C1518.3,138.3 1521.7,138.2 1525.0,138.2 C1528.4,138.1 1531.8,138.1 1535.1,138.0 C1538.5,138.0 1541.8,137.9 1545.2,137.9 C1548.5,137.9 1551.9,137.8 1555.3,137.8 C1558.6,137.7 1562.0,137.7 1565.3,137.7 C1568.7,137.6 1572.0,137.6 1575.4,137.5 C1578.8,137.5 1582.1,137.5 1585.5,137.4 C1588.8,137.4 1592.2,137.4 1595.5,137.3 C1598.9,137.3 1602.2,137.3 1605.6,137.3 C1609.0,137.2 1612.3,137.2 1615.7,137.2 C1619.0,137.2 1622.4,137.1 1625.7,137.1 C1629.1,137.1 1632.4,137.1 1635.8,137.1 C1639.1,137.0 1642.5,137.0 1645.8,137.0 C1649.2,137.0 1652.6,137.0 1655.9,137.0 C1659.3,136.9 1662.6,136.9 1666.0,136.9 C1669.3,136.9 1672.7,136.9 1676.0,136.9 C1679.4,136.9 1682.7,136.9 1686.1,136.9 C1689.4,136.9 1692.8,136.8 1696.1,136.8 C1699.5,136.8 1702.8,136.8 1706.2,136.8 C1709.5,136.8 1712.9,136.8 1716.2,136.8 C1719.6,136.8 1723.0,136.8 1726.3,136.8 C1729.7,136.8 1733.0,136.8 1736.4,136.8 C1739.7,136.8 1743.1,136.8 1746.4,136.8 C1749.8,136.8 1753.1,136.8 1756.5,136.8 C1759.8,136.8 1763.2,136.8 1766.5,136.9 C1769.9,136.9 1773.2,136.9 1776.6,136.9 C1779.9,136.9 1783.3,136.9 1786.7,136.9 C1790.0,136.9 1793.4,136.9 1796.7,136.9 C1800.1,136.9 1803.4,137.0 1806.8,137.0 C1810.1,137.0 1813.5,137.0 1816.8,137.0 C1820.2,137.0 1823.5,137.0 1826.9,137.0 C1830.3,137.0 1833.6,137.1 1837.0,137.1 C1840.3,137.1 1843.7,137.1 1847.0,137.1 C1850.4,137.1 1853.7,137.2 1857.1,137.2 C1860.5,137.2 1863.8,137.2 1867.2,137.2 C1870.5,137.2 1873.9,137.2 1877.2,137.3 C1880.6,137.3 1884.0,137.3 1887.3,137.3 C1890.7,137.3 1894.0,137.4 1897.4,137.4 C1900.7,137.4 1904.1,137.4 1907.5,137.4 C1910.8,137.4 1914.2,137.5 1917.5,137.5 C1920.9,137.5 1924.3,137.5 1927.6,137.5 C1931.0,137.5 1934.3,137.6 1937.7,137.6 C1941.1,137.6 1944.4,137.6 1947.8,137.6 C1951.2,137.7 1954.5,137.7 1957.9,137.7 C1961.2,137.7 1964.6,137.7 1968.0,137.7 C1971.3,137.8 1974.7,137.8 1978.1,137.8 C1981.4,137.8 1984.8,137.8 1988.2,137.9 C1991.5,137.9 1994.9,137.9 1998.3,137.9 C2001.6,137.9 2005.0,137.9 2008.4,138.0 C2011.7,138.0 2015.1,138.0 2018.5,138.0 C2021.9,138.0 2025.2,138.0 2028.6,138.1 C2032.0,138.1 2035.3,138.1 2038.7,138.1 C2042.1,138.1 2045.5,138.1 2048.8,138.1 C2052.2,138.2 2055.6,138.2 2059.0,138.2 C2062.3,138.2 2065.7,138.2 2069.1,138.2 C2072.5,138.2 2075.8,138.2 2079.2,138.2 C2082.6,138.3 2086.0,138.3 2089.4,138.3 C2092.7,138.3 2097.8,138.3 2099.5,138.3" stroke="#F79433"/>
</g>
<rect x="1535.8" y="230.9" width="526.7" height="501.3" fill="#ffffff" stroke="#333333" stroke-width="3"/>
<line x1="1552.3" y1="273.8" x2="1721.8" y2="273.8" stroke="#3AB6EB" stroke-width="8"/>
<text transform="translate(1733.5,294.1) scale(1,1.041)" font-size="50.8" fill="#000000">SO-KF</text>
<line x1="1552.3" y1="343.5" x2="1721.8" y2="343.5" stroke="#7B52A5" stroke-width="8"/>
<text transform="translate(1733.5,363.8) scale(1,1.041)" font-size="50.8" fill="#000000">RSE-KF</text>
<line x1="1552.3" y1="412.9" x2="1721.8" y2="412.9" stroke="#E6193C" stroke-width="8"/>
<text transform="translate(1733.5,433.2) scale(1,1.041)" font-size="50.8" fill="#000000">LSE-KF</text>
<line x1="1552.3" y1="482.4" x2="1721.8" y2="482.4" stroke="#6CBE82" stroke-width="8"/>
<text transform="translate(1733.5,502.7) scale(1,1.041)" font-size="50.8" fill="#000000">SE2(3)-RUKF</text>
<line x1="1552.3" y1="551.5" x2="1721.8" y2="551.5" stroke="#6A8FCF" stroke-width="8"/>
<text transform="translate(1733.5,571.8) scale(1,1.041)" font-size="50.8" fill="#000000">SE2(3)-LUKF</text>
<line x1="1552.3" y1="620.6" x2="1721.8" y2="620.6" stroke="#2A2D7C" stroke-width="8"/>
<text transform="translate(1733.5,640.9) scale(1,1.041)" font-size="50.8" fill="#000000">SE2(3)-RFUT</text>
<line x1="1552.3" y1="690.0" x2="1721.8" y2="690.0" stroke="#F79433" stroke-width="8"/>
<text transform="translate(1733.5,710.3) scale(1,1.041)" font-size="50.8" fill="#000000">SE2(3)-LFUT</text>
<text transform="translate(271.8,1544.5) scale(1,1.041)" font-size="56" text-anchor="middle" fill="#222222">0</text>
<text transform="translate(637.4,1544.5) scale(1,1.041)" font-size="56" text-anchor="middle" fill="#222222">200</text>
<text transform="translate(1003.6,1544.5) scale(1,1.041)" font-size="56" text-anchor="middle" fill="#222222">400</text>
<text transform="translate(1368.9,1544.5) scale(1,1.041)" font-size="56" text-anchor="middle" fill="#222222">600</text>
<text transform="translate(1735.0,1544.5) scale(1,1.041)" font-size="56" text-anchor="middle" fill="#222222">800</text>
<text transform="translate(2099.8,1544.5) scale(1,1.041)" font-size="56" text-anchor="middle" fill="#222222">1000</text>
<text transform="translate(0,164.8) scale(1,1.041)" font-size="56" fill="#222222"><tspan x="217.9" y="0">0</tspan></text>
<text transform="translate(0,405.0) scale(1,1.041)" font-size="56" fill="#222222"><tspan x="144.2" y="-0.60" font-size="45.0" textLength="40.3" lengthAdjust="spacingAndGlyphs">−</tspan><tspan x="186.7" y="0">20</tspan></text>
<text transform="translate(0,645.1) scale(1,1.041)" font-size="56" fill="#222222"><tspan x="144.2" y="-0.60" font-size="45.0" textLength="40.3" lengthAdjust="spacingAndGlyphs">−</tspan><tspan x="186.7" y="0">40</tspan></text>
<text transform="translate(0,885.2) scale(1,1.041)" font-size="56" fill="#222222"><tspan x="144.2" y="-0.60" font-size="45.0" textLength="40.3" lengthAdjust="spacingAndGlyphs">−</tspan><tspan x="186.7" y="0">60</tspan></text>
<text transform="translate(0,1125.7) scale(1,1.041)" font-size="56" fill="#222222"><tspan x="144.2" y="-0.60" font-size="45.0" textLength="40.3" lengthAdjust="spacingAndGlyphs">−</tspan><tspan x="186.7" y="0">80</tspan></text>
<text transform="translate(0,1366.4) scale(1,1.041)" font-size="56" fill="#222222"><tspan x="113.1" y="-0.60" font-size="45.0" textLength="40.3" lengthAdjust="spacingAndGlyphs">−</tspan><tspan x="155.6" y="0">100</tspan></text>
<text transform="translate(1185.5,1627.3) scale(1,1.041)" font-size="62.6" text-anchor="middle" fill="#222222">Time (s)</text>
<text transform="translate(79.3,743.5) rotate(-90) scale(1,1.041)" font-size="62.4" text-anchor="middle" fill="#222222">Yaw estimate error (deg)</text>
</svg></body></html>
